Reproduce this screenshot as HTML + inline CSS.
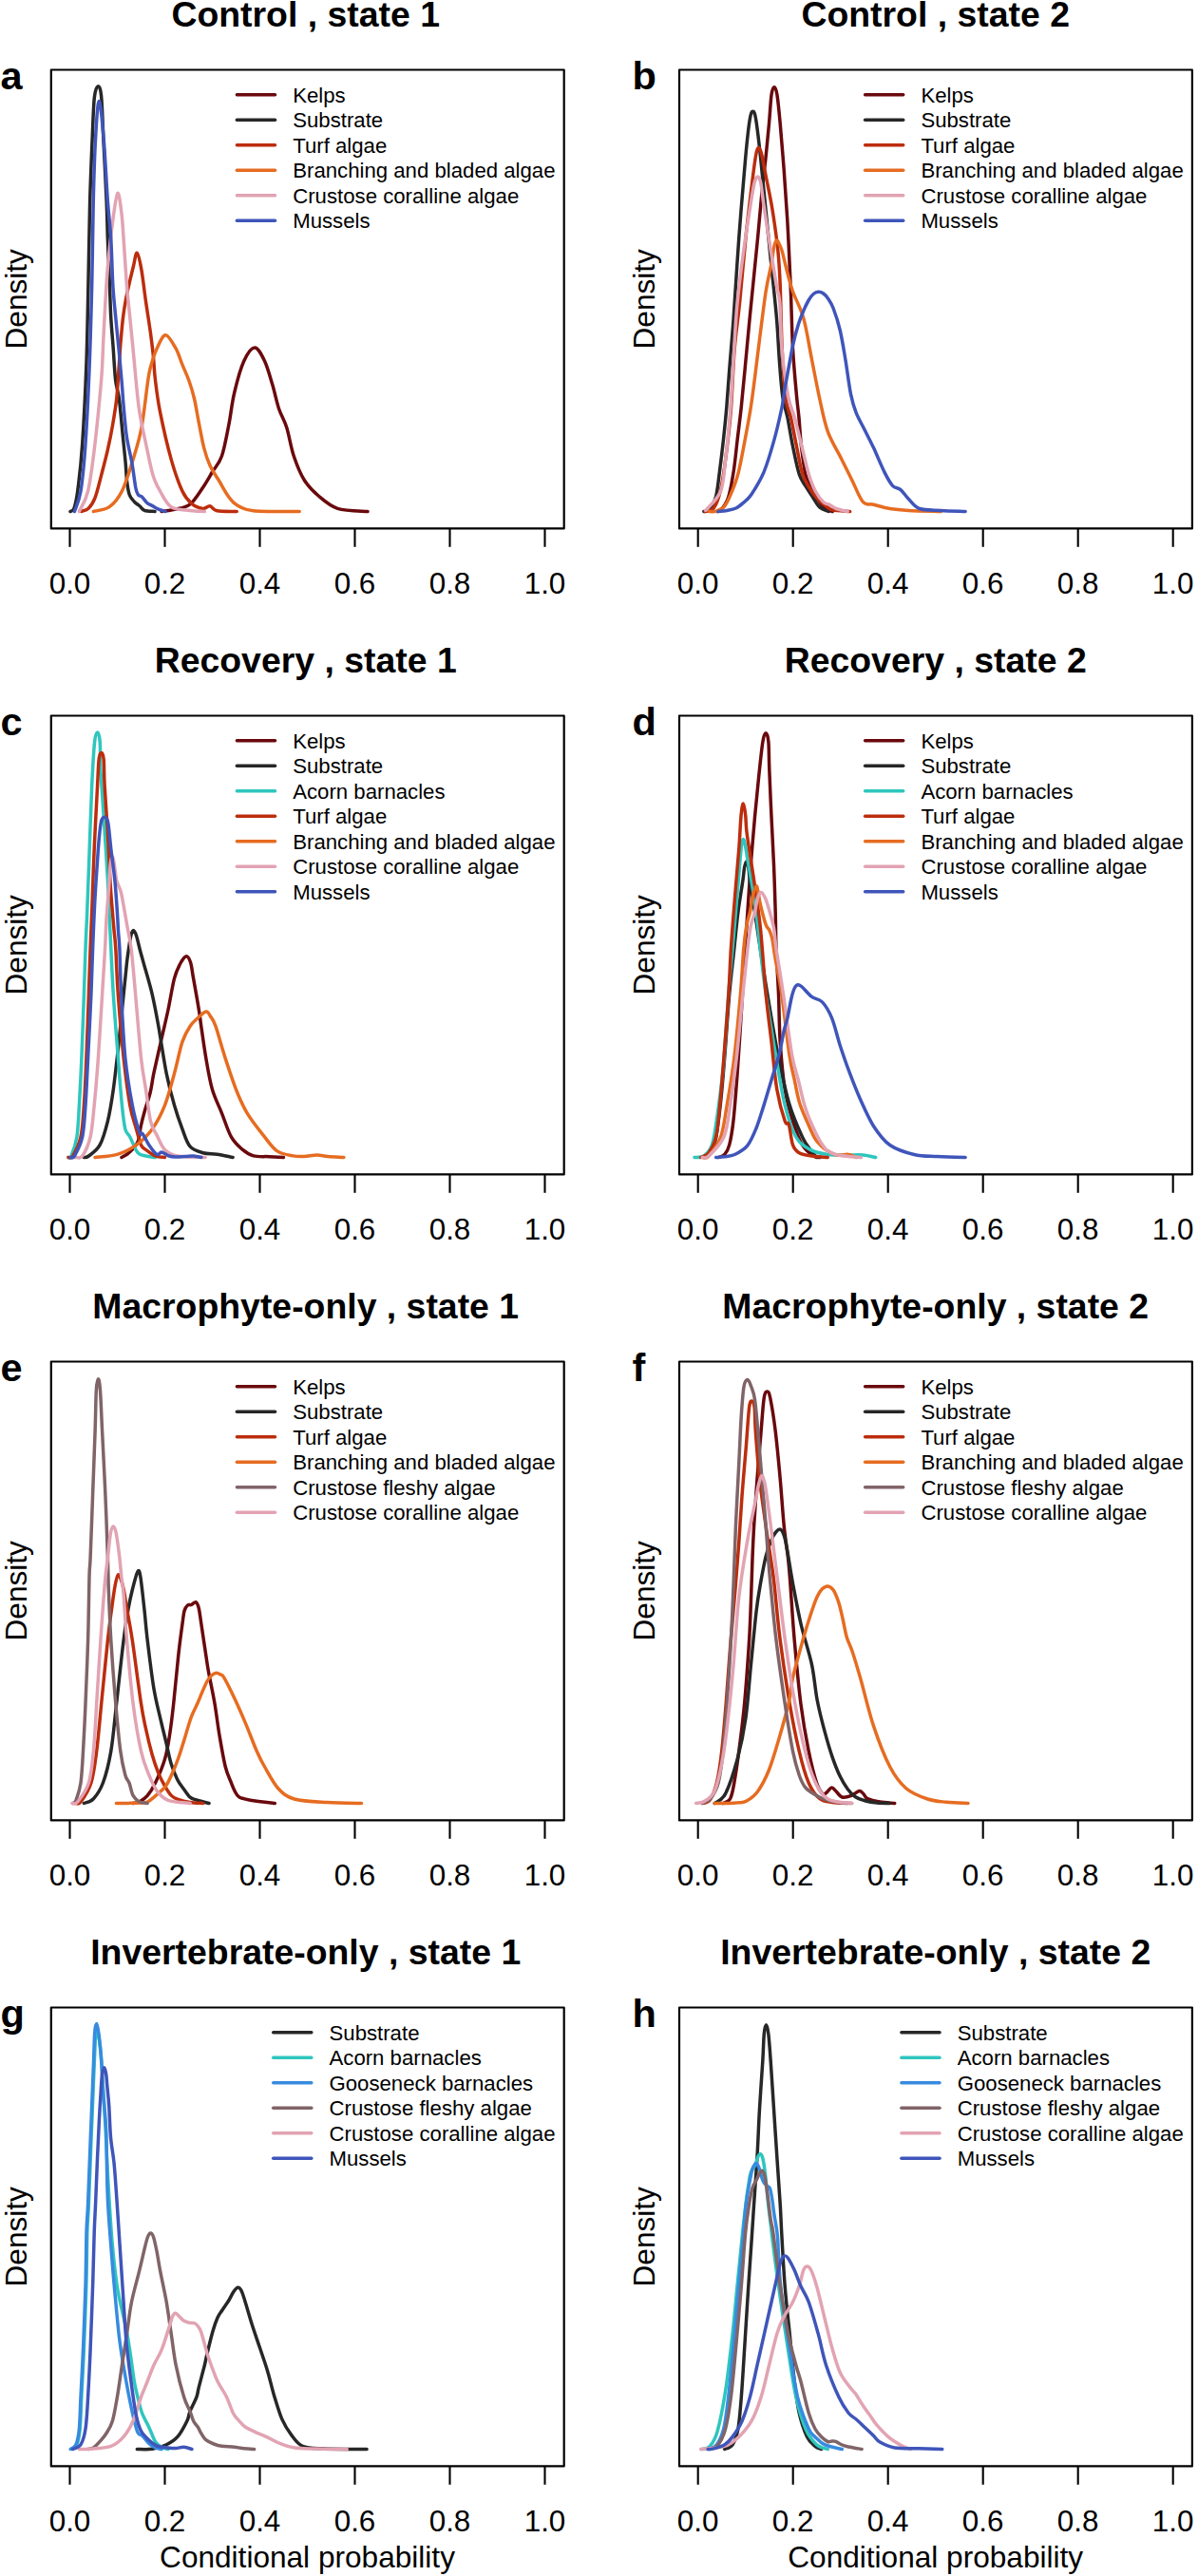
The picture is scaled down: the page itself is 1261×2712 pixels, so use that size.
<!DOCTYPE html><html><head><meta charset="utf-8"><style>html,body{margin:0;padding:0;background:#fff;overflow:hidden;}svg{display:block}text{font-family:"Liberation Sans", sans-serif}</style></head><body>
<svg width="1261" height="2712" viewBox="0 0 1261 2712">
<rect width="1261" height="2712" fill="#fff"/>
<g transform="translate(0.0,0.0)">
<path d="M170.0,538.5 C171.7,538.2 176.9,537.6 180.2,537.0 C183.5,536.4 186.5,536.1 190.0,535.0 C193.5,533.9 197.1,533.9 201.0,530.3 C204.9,526.7 209.7,519.1 213.4,513.6 C217.1,508.1 220.1,502.6 223.4,497.0 C226.7,491.4 230.5,488.7 233.4,480.3 C236.3,471.9 238.7,458.0 240.9,446.9 C243.1,435.8 244.0,424.6 246.7,413.5 C249.3,402.4 253.2,387.9 256.8,380.0 C260.4,372.1 264.5,365.9 268.1,365.9 C271.7,365.9 275.4,373.5 278.5,380.0 C281.6,386.5 284.3,396.7 286.8,405.1 C289.3,413.5 291.0,422.7 293.5,430.2 C296.0,437.7 299.2,441.8 301.8,450.2 C304.4,458.6 306.2,471.1 309.3,480.3 C312.4,489.5 315.9,498.4 320.2,505.3 C324.5,512.2 329.3,517.0 335.2,522.0 C341.1,527.0 346.7,532.5 355.3,535.3 C363.9,538.0 381.7,538.0 387.0,538.5" fill="none" stroke="#6A090D" stroke-width="3.5" stroke-linejoin="round" stroke-linecap="round"/>
<path d="M74.0,538.5 C74.7,537.9 76.7,538.6 78.0,535.0 C79.3,531.4 80.2,528.3 81.7,517.0 C83.2,505.7 85.2,489.2 86.7,467.0 C88.2,444.8 89.9,411.3 90.9,383.5 C91.9,355.7 92.3,328.3 92.9,300.0 C93.5,271.7 93.9,239.1 94.6,213.6 C95.3,188.1 96.3,165.2 97.1,146.8 C97.9,128.4 98.3,112.3 99.3,103.0 C100.3,93.7 101.9,91.2 103.1,90.9 C104.3,90.6 105.6,91.7 106.6,101.0 C107.6,110.3 108.0,128.0 108.9,146.8 C109.8,165.6 111.5,196.4 112.2,213.6 C112.9,230.8 112.8,235.6 113.3,250.0 C113.8,264.4 114.8,286.1 115.4,300.0 C116.0,313.9 116.1,322.4 116.7,333.5 C117.3,344.6 118.4,355.8 119.2,366.9 C120.0,378.0 120.6,391.1 121.6,400.0 C122.6,408.9 124.1,410.0 125.4,420.0 C126.7,430.0 128.3,449.0 129.4,460.1 C130.5,471.2 131.4,479.0 132.1,486.8 C132.8,494.6 132.9,501.1 133.6,506.8 C134.3,512.5 135.0,517.4 136.3,521.0 C137.6,524.6 139.7,526.3 141.4,528.2 C143.2,530.1 145.0,531.0 146.8,532.5 C148.6,534.0 149.4,536.3 152.1,537.3 C154.8,538.3 161.2,538.3 163.0,538.5" fill="none" stroke="#272727" stroke-width="3.5" stroke-linejoin="round" stroke-linecap="round"/>
<path d="M85.3,538.5 C86.7,537.9 91.0,537.3 93.4,534.9 C95.9,532.5 97.8,530.0 100.0,524.2 C102.2,518.4 104.5,508.6 106.7,500.1 C108.9,491.6 111.4,482.3 113.4,473.4 C115.4,464.5 117.2,455.6 118.7,446.7 C120.2,437.8 121.7,429.1 122.7,420.0 C123.7,410.9 124.1,401.4 124.8,392.0 C125.5,382.6 126.0,373.1 126.7,363.8 C127.5,354.5 128.4,344.1 129.3,336.0 C130.2,327.9 131.2,322.0 132.4,315.5 C133.6,309.0 135.1,302.9 136.4,297.0 C137.8,291.1 139.2,285.1 140.5,280.0 C141.8,274.9 142.8,265.7 144.2,266.3 C145.6,266.9 147.3,275.0 148.8,283.4 C150.3,291.8 151.8,305.7 153.4,316.8 C155.0,327.9 157.1,340.5 158.4,350.2 C159.7,359.9 160.6,367.0 161.4,375.2 C162.2,383.4 162.2,389.7 163.4,399.4 C164.6,409.1 165.7,419.6 168.5,433.6 C171.3,447.6 176.3,469.7 180.2,483.6 C184.1,497.5 188.3,509.2 191.9,517.0 C195.5,524.8 198.3,527.3 201.9,530.4 C205.5,533.5 210.4,535.0 213.6,535.4 C216.8,535.8 218.4,532.4 220.9,532.8 C223.4,533.2 223.7,536.8 228.4,537.8 C233.1,538.8 245.7,538.4 249.2,538.5" fill="none" stroke="#BC2D0D" stroke-width="3.5" stroke-linejoin="round" stroke-linecap="round"/>
<path d="M98.4,538.5 C101.2,537.7 110.1,537.3 115.1,533.7 C120.1,530.1 124.2,525.4 128.4,517.0 C132.6,508.6 136.7,494.8 140.1,483.6 C143.5,472.4 146.4,464.0 149.0,450.0 C151.6,436.0 154.2,410.5 155.9,399.4 C157.6,388.3 157.8,389.0 159.3,383.6 C160.8,378.2 162.6,372.0 165.1,366.9 C167.6,361.8 171.0,352.7 174.3,352.7 C177.6,352.7 182.2,361.8 185.1,366.9 C188.0,372.0 189.5,377.9 191.8,383.6 C194.1,389.3 196.8,394.9 199.0,401.0 C201.2,407.1 202.9,413.0 204.7,420.5 C206.4,428.0 207.8,437.5 209.5,446.0 C211.2,454.5 212.8,464.3 214.7,471.6 C216.6,478.9 218.4,484.3 221.0,490.0 C223.6,495.7 227.1,500.4 230.3,505.7 C233.5,511.0 236.9,517.7 240.0,522.0 C243.1,526.3 244.5,528.9 249.0,531.5 C253.5,534.1 255.8,536.6 266.8,537.8 C277.8,539.0 307.1,538.4 315.2,538.5" fill="none" stroke="#E66C21" stroke-width="3.5" stroke-linejoin="round" stroke-linecap="round"/>
<path d="M83.4,538.5 C84.9,534.9 89.8,528.9 92.6,517.0 C95.4,505.1 97.7,486.6 100.0,467.0 C102.3,447.4 105.2,417.2 106.7,399.4 C108.2,381.6 108.0,373.4 108.7,360.0 C109.4,346.6 110.1,332.0 110.9,318.7 C111.7,305.4 112.2,293.9 113.5,280.0 C114.8,266.1 116.7,247.8 118.4,235.0 C120.1,222.2 122.2,205.2 123.8,203.5 C125.4,201.8 127.0,217.2 128.0,225.0 C129.0,232.8 129.1,237.5 130.0,250.0 C130.9,262.5 132.3,286.1 133.4,300.0 C134.5,313.9 135.6,322.4 136.7,333.5 C137.8,344.6 138.9,355.9 140.0,366.9 C141.1,377.9 141.9,388.3 143.0,399.4 C144.1,410.5 145.1,422.3 146.8,433.6 C148.6,444.9 151.1,455.9 153.5,467.0 C155.9,478.1 158.5,492.0 161.0,500.3 C163.5,508.6 165.3,511.4 168.5,517.0 C171.7,522.6 174.9,530.3 180.2,533.7 C185.4,537.1 194.2,536.7 200.0,537.5 C205.8,538.3 212.8,538.3 215.3,538.5" fill="none" stroke="#E2A3B3" stroke-width="3.5" stroke-linejoin="round" stroke-linecap="round"/>
<path d="M78.4,538.5 C79.5,534.9 83.1,528.9 85.0,517.0 C86.9,505.1 88.5,489.2 90.0,467.0 C91.5,444.8 93.1,411.3 94.2,383.5 C95.3,355.7 96.0,328.3 96.7,300.0 C97.4,271.7 97.6,239.1 98.2,213.6 C98.8,188.1 99.5,164.7 100.5,146.8 C101.5,129.0 102.8,106.5 104.3,106.5 C105.8,106.5 107.7,129.0 109.2,146.8 C110.7,164.7 112.2,196.4 113.5,213.6 C114.8,230.8 115.8,235.6 116.7,250.0 C117.6,264.4 118.0,286.1 118.8,300.0 C119.6,313.9 120.7,322.4 121.7,333.5 C122.7,344.6 123.9,355.0 125.0,366.9 C126.1,378.8 127.6,395.3 128.4,405.0 C129.2,414.7 129.1,415.8 129.9,425.0 C130.7,434.2 131.9,449.8 133.4,460.1 C134.9,470.4 137.2,477.9 138.8,486.8 C140.4,495.7 141.7,507.8 142.8,513.5 C143.9,519.2 144.5,519.4 145.6,521.0 C146.7,522.6 147.9,521.6 149.4,523.0 C150.9,524.4 153.0,527.9 154.8,529.5 C156.6,531.1 158.1,531.3 160.1,532.4 C162.1,533.5 164.5,535.2 166.8,536.2 C169.1,537.2 172.8,538.1 174.0,538.5" fill="none" stroke="#3F55BA" stroke-width="3.5" stroke-linejoin="round" stroke-linecap="round"/>
<rect x="53.8" y="73.5" width="539.9" height="482.9" fill="none" stroke="#000" stroke-width="2.2" stroke-linejoin="round"/>
<line x1="73.5" y1="556.4" x2="73.5" y2="575.8" stroke="#000" stroke-width="2.1"/>
<text x="73.5" y="624.5" font-size="31.4" text-anchor="middle">0.0</text>
<line x1="173.5" y1="556.4" x2="173.5" y2="575.8" stroke="#000" stroke-width="2.1"/>
<text x="173.5" y="624.5" font-size="31.4" text-anchor="middle">0.2</text>
<line x1="273.5" y1="556.4" x2="273.5" y2="575.8" stroke="#000" stroke-width="2.1"/>
<text x="273.5" y="624.5" font-size="31.4" text-anchor="middle">0.4</text>
<line x1="373.5" y1="556.4" x2="373.5" y2="575.8" stroke="#000" stroke-width="2.1"/>
<text x="373.5" y="624.5" font-size="31.4" text-anchor="middle">0.6</text>
<line x1="473.5" y1="556.4" x2="473.5" y2="575.8" stroke="#000" stroke-width="2.1"/>
<text x="473.5" y="624.5" font-size="31.4" text-anchor="middle">0.8</text>
<line x1="573.5" y1="556.4" x2="573.5" y2="575.8" stroke="#000" stroke-width="2.1"/>
<text x="573.5" y="624.5" font-size="31.4" text-anchor="middle">1.0</text>
<text x="321.7" y="28" font-size="37.4" font-weight="bold" text-anchor="middle">Control , state 1</text>
<text x="0.6" y="93.6" font-size="41.5" font-weight="bold">a</text>
<text transform="translate(27.5,314.8) rotate(-90)" font-size="31.6" text-anchor="middle">Density</text>
<line x1="249.4" y1="99.8" x2="289.5" y2="99.8" stroke="#6A090D" stroke-width="3.5" stroke-linecap="round"/>
<text x="308.2" y="107.7" font-size="22.2">Kelps</text>
<line x1="249.4" y1="126.3" x2="289.5" y2="126.3" stroke="#272727" stroke-width="3.5" stroke-linecap="round"/>
<text x="308.2" y="134.2" font-size="22.2">Substrate</text>
<line x1="249.4" y1="152.8" x2="289.5" y2="152.8" stroke="#BC2D0D" stroke-width="3.5" stroke-linecap="round"/>
<text x="308.2" y="160.7" font-size="22.2">Turf algae</text>
<line x1="249.4" y1="179.3" x2="289.5" y2="179.3" stroke="#E66C21" stroke-width="3.5" stroke-linecap="round"/>
<text x="308.2" y="187.2" font-size="22.2">Branching and bladed algae</text>
<line x1="249.4" y1="205.8" x2="289.5" y2="205.8" stroke="#E2A3B3" stroke-width="3.5" stroke-linecap="round"/>
<text x="308.2" y="213.7" font-size="22.2">Crustose coralline algae</text>
<line x1="249.4" y1="232.3" x2="289.5" y2="232.3" stroke="#3F55BA" stroke-width="3.5" stroke-linecap="round"/>
<text x="308.2" y="240.2" font-size="22.2">Mussels</text>
</g>
<g transform="translate(661.2,0.0)">
<path d="M94.0,538.5 C94.8,538.0 96.9,538.0 98.8,535.5 C100.7,533.0 103.5,530.0 105.5,523.5 C107.5,517.0 109.3,506.8 110.9,496.8 C112.5,486.8 113.6,474.5 114.9,463.4 C116.2,452.3 117.6,442.2 118.9,430.0 C120.2,417.8 121.3,405.8 122.8,390.0 C124.3,374.2 125.6,358.7 127.9,335.4 C130.2,312.1 134.2,272.9 136.4,250.3 C138.6,227.7 139.6,214.2 141.0,200.0 C142.4,185.8 143.7,176.8 144.9,165.1 C146.1,153.4 147.3,140.9 148.3,130.1 C149.3,119.2 149.9,106.4 150.8,100.0 C151.7,93.6 152.8,91.7 153.8,91.7 C154.8,91.7 155.8,93.6 156.8,100.0 C157.8,106.4 158.8,116.7 160.0,130.1 C161.2,143.5 162.8,163.5 164.1,180.2 C165.3,196.9 166.5,213.6 167.5,230.3 C168.5,247.0 169.4,267.0 170.0,280.3 C170.6,293.6 170.8,295.6 171.3,310.0 C171.9,324.4 172.3,349.0 173.3,366.8 C174.3,384.6 176.2,404.7 177.3,416.9 C178.4,429.1 179.0,431.1 179.8,440.0 C180.6,448.9 181.1,460.0 182.3,470.0 C183.5,480.0 185.0,492.7 186.8,500.0 C188.6,507.3 190.8,509.6 193.0,514.0 C195.2,518.4 197.7,522.6 200.0,526.2 C202.3,529.8 204.5,533.5 207.0,535.5 C209.5,537.5 213.7,538.0 215.0,538.5" fill="none" stroke="#6A090D" stroke-width="3.5" stroke-linejoin="round" stroke-linecap="round"/>
<path d="M79.7,538.5 C80.7,538.2 83.4,539.3 85.5,536.8 C87.6,534.3 90.4,530.2 92.2,523.5 C94.0,516.8 94.9,506.8 96.2,496.8 C97.5,486.8 99.0,474.5 100.2,463.4 C101.4,452.3 102.5,442.2 103.5,430.0 C104.5,417.8 105.3,405.8 106.5,390.0 C107.7,374.2 109.2,358.7 110.9,335.4 C112.6,312.1 114.5,278.7 116.6,250.3 C118.7,221.9 121.7,185.8 123.6,165.1 C125.5,144.4 126.7,134.0 128.0,126.0 C129.3,118.0 130.2,117.2 131.3,117.2 C132.4,117.2 133.2,118.0 134.5,126.0 C135.8,134.0 137.6,149.1 139.3,165.1 C141.0,181.1 143.0,203.0 144.9,221.9 C146.8,240.8 148.7,259.7 150.6,278.6 C152.5,297.5 154.9,318.5 156.3,335.4 C157.7,352.3 158.2,366.4 159.2,380.0 C160.2,393.6 161.1,406.9 162.5,416.9 C163.9,426.9 166.0,431.1 167.8,440.0 C169.6,448.9 171.2,460.0 173.3,470.0 C175.4,480.0 177.8,492.7 180.3,500.0 C182.8,507.3 185.9,509.9 188.3,514.0 C190.8,518.1 192.8,521.1 195.0,524.5 C197.2,527.9 199.0,531.9 201.7,534.2 C204.4,536.5 209.4,537.8 211.0,538.5" fill="none" stroke="#272727" stroke-width="3.5" stroke-linejoin="round" stroke-linecap="round"/>
<path d="M81.0,538.5 C82.5,537.9 87.3,538.6 90.0,535.0 C92.7,531.4 94.9,525.6 97.0,517.0 C99.1,508.4 100.7,497.5 102.5,483.6 C104.3,469.7 106.4,453.1 108.0,433.6 C109.6,414.1 110.4,386.0 112.0,366.8 C113.6,347.6 115.4,338.7 117.4,318.7 C119.4,298.7 122.0,267.3 124.1,247.0 C126.2,226.7 128.2,210.9 129.9,196.9 C131.6,182.9 133.2,169.9 134.5,163.0 C135.8,156.1 136.6,155.5 137.6,155.5 C138.6,155.5 139.4,158.1 140.6,163.0 C141.8,167.9 143.0,175.2 144.9,185.0 C146.8,194.8 149.9,208.7 152.0,221.9 C154.1,235.1 156.4,251.4 157.7,264.4 C159.0,277.4 159.3,282.9 160.0,300.0 C160.7,317.1 161.0,346.8 162.0,366.8 C163.0,386.8 164.4,407.8 166.0,420.0 C167.6,432.2 169.4,431.7 171.3,440.0 C173.2,448.3 175.2,460.0 177.3,470.0 C179.4,480.0 181.1,492.0 183.8,500.0 C186.5,508.0 190.7,513.4 193.7,518.0 C196.7,522.6 199.3,525.0 201.7,527.5 C204.1,530.0 206.1,531.2 208.3,532.8 C210.5,534.3 210.8,535.8 215.0,536.8 C219.2,537.8 230.3,538.2 233.4,538.5" fill="none" stroke="#BC2D0D" stroke-width="3.5" stroke-linejoin="round" stroke-linecap="round"/>
<path d="M85.0,538.5 C86.2,538.5 89.5,539.2 92.2,538.2 C95.0,537.2 98.6,536.4 101.5,532.8 C104.4,529.2 107.0,522.8 109.5,516.8 C112.0,510.8 114.0,505.7 116.2,496.8 C118.4,487.9 120.8,474.5 122.9,463.4 C125.0,452.3 127.2,440.6 128.9,430.0 C130.6,419.4 131.6,411.0 133.0,400.0 C134.4,389.0 135.5,379.3 137.5,363.8 C139.5,348.3 142.7,321.2 144.9,307.0 C147.1,292.8 149.2,286.4 150.6,278.6 C152.0,270.8 152.6,264.2 153.5,260.0 C154.4,255.8 155.4,253.6 156.3,253.1 C157.2,252.6 158.1,255.1 159.0,257.0 C159.9,258.9 160.6,259.4 162.0,264.4 C163.4,269.4 165.7,280.0 167.6,287.1 C169.5,294.2 170.5,298.9 173.3,307.0 C176.2,315.1 181.4,323.6 184.7,335.4 C188.0,347.2 190.4,363.8 193.2,378.0 C196.0,392.2 198.9,407.7 201.7,420.5 C204.5,433.3 206.4,444.2 210.2,454.6 C214.0,465.0 220.2,474.5 224.4,483.0 C228.7,491.5 231.9,498.1 235.7,505.7 C239.5,513.3 243.3,524.1 247.1,528.4 C250.9,532.6 253.7,530.0 258.4,531.2 C263.1,532.4 269.4,534.5 275.5,535.5 C281.6,536.5 286.3,536.9 295.3,537.4 C304.3,537.9 323.7,538.3 329.4,538.5" fill="none" stroke="#E66C21" stroke-width="3.5" stroke-linejoin="round" stroke-linecap="round"/>
<path d="M81.5,537.5 C84.2,534.1 93.9,526.0 97.4,517.0 C100.9,508.0 100.7,497.5 102.4,483.6 C104.1,469.7 105.9,453.1 107.4,433.6 C108.9,414.1 110.3,386.0 111.6,366.8 C112.8,347.6 113.2,335.9 114.9,318.7 C116.6,301.5 119.2,281.1 121.6,263.6 C124.0,246.1 127.2,225.5 129.1,213.6 C131.0,201.7 131.8,196.6 133.0,192.0 C134.2,187.4 135.2,186.0 136.3,186.0 C137.4,186.0 138.5,187.4 139.5,192.0 C140.5,196.6 140.7,201.7 142.4,213.6 C144.2,225.5 147.7,249.2 150.0,263.6 C152.3,278.0 154.4,290.8 156.0,300.0 C157.6,309.2 158.6,307.6 159.6,318.7 C160.6,329.8 160.4,350.4 161.8,366.8 C163.2,383.2 166.1,404.7 168.3,416.9 C170.6,429.1 172.9,431.1 175.3,440.0 C177.7,448.9 180.3,460.0 182.8,470.0 C185.3,480.0 187.9,492.2 190.3,500.0 C192.7,507.8 194.4,512.2 197.0,517.0 C199.6,521.8 203.1,526.4 205.7,528.8 C208.3,531.2 210.2,530.4 212.4,531.5 C214.6,532.6 215.9,534.3 219.0,535.5 C222.1,536.7 229.0,538.0 231.0,538.5" fill="none" stroke="#E2A3B3" stroke-width="3.5" stroke-linejoin="round" stroke-linecap="round"/>
<path d="M94.8,538.5 C96.3,538.3 100.9,538.1 104.0,537.5 C107.1,536.9 110.7,536.3 113.5,535.0 C116.3,533.7 118.3,531.9 121.0,529.5 C123.7,527.1 125.9,526.2 129.6,520.8 C133.2,515.3 138.9,506.4 142.9,496.8 C146.9,487.2 150.5,474.5 153.6,463.4 C156.7,452.3 159.7,438.9 161.6,430.0 C163.5,421.1 162.9,421.0 164.8,410.0 C166.8,399.0 170.9,375.1 173.3,363.8 C175.7,352.5 177.1,348.1 179.0,342.0 C180.9,335.9 182.9,331.2 184.7,326.9 C186.5,322.6 188.3,318.9 190.0,316.0 C191.7,313.1 193.3,310.9 195.0,309.5 C196.7,308.1 198.2,307.4 200.0,307.3 C201.8,307.2 203.8,307.8 205.5,309.0 C207.2,310.2 208.8,311.9 210.5,314.5 C212.2,317.1 213.8,319.0 215.9,324.5 C218.0,330.0 220.9,338.6 223.0,347.5 C225.1,356.4 226.7,366.8 228.6,378.0 C230.5,389.2 232.4,405.4 234.3,414.9 C236.2,424.3 237.6,428.6 240.0,434.7 C242.4,440.8 245.4,445.5 248.5,451.7 C251.6,457.9 254.8,464.0 258.4,471.6 C261.9,479.2 266.5,490.5 269.8,497.1 C273.1,503.7 275.5,508.2 278.3,511.3 C281.1,514.4 284.0,513.2 286.8,515.6 C289.6,518.0 292.0,522.2 295.3,525.5 C298.6,528.8 301.0,533.5 306.7,535.5 C312.4,537.5 321.4,536.9 329.4,537.4 C337.4,537.9 350.6,538.3 354.9,538.5" fill="none" stroke="#3F55BA" stroke-width="3.5" stroke-linejoin="round" stroke-linecap="round"/>
<rect x="53.8" y="73.5" width="539.9" height="482.9" fill="none" stroke="#000" stroke-width="2.2" stroke-linejoin="round"/>
<line x1="73.5" y1="556.4" x2="73.5" y2="575.8" stroke="#000" stroke-width="2.1"/>
<text x="73.5" y="624.5" font-size="31.4" text-anchor="middle">0.0</text>
<line x1="173.5" y1="556.4" x2="173.5" y2="575.8" stroke="#000" stroke-width="2.1"/>
<text x="173.5" y="624.5" font-size="31.4" text-anchor="middle">0.2</text>
<line x1="273.5" y1="556.4" x2="273.5" y2="575.8" stroke="#000" stroke-width="2.1"/>
<text x="273.5" y="624.5" font-size="31.4" text-anchor="middle">0.4</text>
<line x1="373.5" y1="556.4" x2="373.5" y2="575.8" stroke="#000" stroke-width="2.1"/>
<text x="373.5" y="624.5" font-size="31.4" text-anchor="middle">0.6</text>
<line x1="473.5" y1="556.4" x2="473.5" y2="575.8" stroke="#000" stroke-width="2.1"/>
<text x="473.5" y="624.5" font-size="31.4" text-anchor="middle">0.8</text>
<line x1="573.5" y1="556.4" x2="573.5" y2="575.8" stroke="#000" stroke-width="2.1"/>
<text x="573.5" y="624.5" font-size="31.4" text-anchor="middle">1.0</text>
<text x="323.5" y="28" font-size="37.4" font-weight="bold" text-anchor="middle">Control , state 2</text>
<text x="4.3" y="93.6" font-size="41.5" font-weight="bold">b</text>
<text transform="translate(27.5,314.8) rotate(-90)" font-size="31.6" text-anchor="middle">Density</text>
<line x1="249.4" y1="99.8" x2="289.5" y2="99.8" stroke="#6A090D" stroke-width="3.5" stroke-linecap="round"/>
<text x="308.2" y="107.7" font-size="22.2">Kelps</text>
<line x1="249.4" y1="126.3" x2="289.5" y2="126.3" stroke="#272727" stroke-width="3.5" stroke-linecap="round"/>
<text x="308.2" y="134.2" font-size="22.2">Substrate</text>
<line x1="249.4" y1="152.8" x2="289.5" y2="152.8" stroke="#BC2D0D" stroke-width="3.5" stroke-linecap="round"/>
<text x="308.2" y="160.7" font-size="22.2">Turf algae</text>
<line x1="249.4" y1="179.3" x2="289.5" y2="179.3" stroke="#E66C21" stroke-width="3.5" stroke-linecap="round"/>
<text x="308.2" y="187.2" font-size="22.2">Branching and bladed algae</text>
<line x1="249.4" y1="205.8" x2="289.5" y2="205.8" stroke="#E2A3B3" stroke-width="3.5" stroke-linecap="round"/>
<text x="308.2" y="213.7" font-size="22.2">Crustose coralline algae</text>
<line x1="249.4" y1="232.3" x2="289.5" y2="232.3" stroke="#3F55BA" stroke-width="3.5" stroke-linecap="round"/>
<text x="308.2" y="240.2" font-size="22.2">Mussels</text>
</g>
<g transform="translate(0.0,680.0)">
<path d="M128.0,538.5 C129.0,537.9 132.0,536.5 134.0,535.0 C136.0,533.5 138.1,531.8 140.0,529.5 C141.9,527.2 144.1,524.9 145.5,521.0 C146.9,517.1 147.1,511.2 148.2,506.0 C149.3,500.8 150.5,496.0 152.2,490.0 C153.9,484.0 156.6,476.6 158.2,470.0 C159.8,463.4 160.0,459.1 161.8,450.2 C163.7,441.3 166.8,428.0 169.3,416.9 C171.8,405.8 174.5,394.6 176.9,383.5 C179.3,372.4 181.3,358.4 183.5,350.1 C185.7,341.9 187.9,337.9 190.0,334.0 C192.1,330.1 194.3,326.9 196.1,326.7 C197.8,326.5 199.2,329.1 200.5,333.0 C201.8,336.9 202.1,341.7 203.6,350.1 C205.1,358.5 208.1,375.2 209.4,383.5 C210.8,391.8 210.5,391.7 211.7,400.0 C212.9,408.3 214.8,422.3 216.7,433.4 C218.6,444.5 220.6,457.1 223.4,466.8 C226.2,476.5 230.1,483.5 233.4,491.8 C236.7,500.1 239.8,510.5 243.4,516.9 C247.0,523.3 251.2,526.9 255.1,530.2 C259.0,533.5 262.1,535.6 266.8,536.9 C271.5,538.1 278.2,537.4 283.5,537.7 C288.8,538.0 296.0,538.4 298.5,538.5" fill="none" stroke="#6A090D" stroke-width="3.5" stroke-linejoin="round" stroke-linecap="round"/>
<path d="M88.4,538.5 C89.2,538.2 90.6,539.2 93.4,537.0 C96.2,534.8 101.8,531.5 105.1,525.4 C108.4,519.3 111.0,510.0 113.4,500.3 C115.8,490.6 117.3,480.9 119.3,467.0 C121.2,453.1 123.3,433.6 125.1,416.9 C126.9,400.2 128.7,380.7 130.1,366.8 C131.5,352.9 132.6,341.4 133.5,333.4 C134.4,325.4 134.8,323.4 135.5,318.7 C136.2,314.0 137.0,308.2 137.8,305.0 C138.6,301.8 139.6,299.5 140.5,299.5 C141.4,299.5 142.4,301.8 143.5,305.0 C144.6,308.2 145.8,314.0 147.0,318.7 C148.2,323.4 148.8,325.4 151.0,333.4 C153.2,341.4 157.6,355.7 160.2,366.8 C162.8,377.9 164.3,386.3 166.8,400.2 C169.3,414.1 172.4,436.3 175.2,450.2 C178.0,464.1 180.7,473.9 183.5,483.6 C186.3,493.4 189.2,501.5 191.9,508.7 C194.7,515.9 196.4,522.7 200.0,526.9 C203.6,531.1 208.9,532.3 213.6,533.7 C218.3,535.1 223.2,534.4 228.4,535.2 C233.7,536.0 242.3,538.0 245.1,538.5" fill="none" stroke="#272727" stroke-width="3.5" stroke-linejoin="round" stroke-linecap="round"/>
<path d="M72.0,538.5 C72.5,538.2 73.5,540.6 75.0,537.0 C76.5,533.4 79.5,525.9 80.9,517.0 C82.3,508.1 82.6,497.5 83.4,483.6 C84.2,469.7 85.1,453.1 85.9,433.6 C86.7,414.1 87.7,386.0 88.4,366.8 C89.1,347.6 89.5,333.1 90.0,318.7 C90.5,304.3 91.0,297.8 91.7,280.3 C92.4,262.8 93.4,235.8 94.2,213.6 C95.0,191.3 95.8,165.6 96.7,146.8 C97.6,128.0 98.6,110.3 99.6,101.0 C100.6,91.7 101.7,90.9 102.6,90.9 C103.5,90.9 104.7,94.5 105.2,101.0 C105.8,107.5 105.2,116.8 105.9,130.0 C106.6,143.2 108.0,160.7 109.2,180.2 C110.5,199.7 112.3,227.0 113.4,247.0 C114.5,267.0 115.3,288.1 115.9,300.0 C116.5,311.9 116.2,307.6 116.8,318.7 C117.4,329.8 118.0,347.6 119.3,366.8 C120.5,386.0 122.8,414.1 124.3,433.6 C125.8,453.1 127.2,471.1 128.4,483.6 C129.7,496.1 130.4,503.1 131.8,508.7 C133.2,514.3 134.6,512.8 136.8,517.0 C139.0,521.2 142.3,530.4 145.1,533.7 C147.9,537.0 150.4,536.2 153.5,537.0 C156.6,537.8 161.8,538.2 163.5,538.5" fill="none" stroke="#2EC6BE" stroke-width="3.5" stroke-linejoin="round" stroke-linecap="round"/>
<path d="M72.0,538.5 C72.8,538.2 74.5,540.6 76.7,537.0 C78.9,533.4 83.0,525.9 85.0,517.0 C87.0,508.1 87.4,497.5 88.4,483.6 C89.4,469.7 90.1,453.1 90.9,433.6 C91.7,414.1 92.7,386.0 93.4,366.8 C94.1,347.6 94.5,333.1 95.1,318.7 C95.6,304.3 96.0,297.8 96.7,280.3 C97.4,262.8 98.2,235.8 99.2,213.6 C100.2,191.3 101.8,162.6 102.6,146.8 C103.4,131.0 103.5,124.7 104.2,119.0 C104.9,113.3 105.9,112.6 106.7,112.6 C107.5,112.6 108.5,113.3 109.1,119.0 C109.7,124.7 109.4,133.8 110.1,146.8 C110.8,159.8 112.4,180.2 113.4,196.9 C114.4,213.6 115.1,233.1 115.9,247.0 C116.7,260.9 117.7,271.5 118.4,280.3 C119.1,289.1 119.5,293.6 120.1,300.0 C120.7,306.4 121.1,307.6 121.8,318.7 C122.5,329.8 122.9,347.6 124.3,366.8 C125.7,386.0 128.0,414.1 130.1,433.6 C132.2,453.1 134.6,471.1 136.8,483.6 C139.0,496.1 141.6,501.7 143.5,508.7 C145.4,515.7 146.8,521.8 148.5,525.4 C150.2,529.0 151.0,528.5 153.5,530.4 C156.0,532.3 160.2,535.6 163.5,537.0 C166.8,538.4 171.8,538.2 173.5,538.5" fill="none" stroke="#BC2D0D" stroke-width="3.5" stroke-linejoin="round" stroke-linecap="round"/>
<path d="M100.1,538.5 C104.0,538.0 116.2,537.6 123.4,535.4 C130.6,533.2 137.4,529.9 143.5,525.4 C149.6,520.9 155.2,515.7 160.2,508.7 C165.2,501.7 169.6,493.4 173.5,483.6 C177.4,473.9 180.4,461.3 183.5,450.2 C186.6,439.1 189.1,425.2 191.9,416.9 C194.7,408.6 197.5,404.3 200.2,400.2 C202.9,396.1 205.2,394.5 208.0,392.0 C210.8,389.5 214.7,385.4 216.9,385.1 C219.2,384.8 219.8,387.5 221.5,390.0 C223.2,392.5 224.3,392.9 226.9,400.2 C229.5,407.5 233.4,422.5 237.0,433.6 C240.6,444.7 244.6,457.1 248.4,466.8 C252.2,476.5 255.1,483.5 260.1,491.8 C265.1,500.1 273.2,510.2 278.5,516.9 C283.8,523.6 286.8,528.6 291.8,531.9 C296.8,535.2 303.8,536.0 308.5,536.9 C313.2,537.8 315.8,537.6 320.0,537.5 C324.2,537.4 329.4,536.0 333.6,536.0 C337.8,536.0 340.3,537.1 345.0,537.5 C349.7,537.9 359.1,538.3 361.9,538.5" fill="none" stroke="#E66C21" stroke-width="3.5" stroke-linejoin="round" stroke-linecap="round"/>
<path d="M80.0,538.5 C81.1,538.2 84.2,540.6 86.7,537.0 C89.2,533.4 93.0,525.9 95.1,517.0 C97.2,508.1 97.8,497.5 99.2,483.6 C100.6,469.7 102.0,453.1 103.4,433.6 C104.8,414.1 106.4,385.7 107.6,366.8 C108.8,347.9 109.8,333.2 110.5,320.0 C111.2,306.8 111.4,298.0 112.0,287.7 C112.6,277.4 113.6,267.7 114.3,258.4 C115.0,249.1 115.4,238.1 116.0,232.0 C116.6,225.9 117.3,222.7 118.0,222.0 C118.7,221.3 119.2,224.0 120.0,228.0 C120.8,232.0 121.6,241.7 122.5,246.0 C123.4,250.3 124.6,251.5 125.4,253.8 C126.2,256.1 126.8,257.3 127.5,260.0 C128.2,262.7 128.5,264.5 129.5,270.1 C130.5,275.7 132.2,285.2 133.6,293.5 C135.0,301.8 136.7,307.6 138.2,319.8 C139.7,332.0 140.9,347.8 142.6,366.8 C144.3,385.8 146.7,416.9 148.5,433.6 C150.3,450.3 151.8,455.9 153.5,467.0 C155.2,478.1 156.6,492.2 158.5,500.3 C160.4,508.4 162.7,510.4 165.2,515.4 C167.7,520.4 169.9,526.8 173.5,530.4 C177.1,534.0 179.8,535.6 186.9,537.0 C194.0,538.4 211.2,538.2 216.1,538.5" fill="none" stroke="#E2A3B3" stroke-width="3.5" stroke-linejoin="round" stroke-linecap="round"/>
<path d="M74.0,538.5 C74.7,538.2 76.3,540.6 78.4,537.0 C80.5,533.4 84.8,525.9 86.7,517.0 C88.6,508.1 89.0,497.5 90.0,483.6 C91.0,469.7 91.6,453.1 92.6,433.6 C93.6,414.1 95.1,386.0 95.9,366.8 C96.7,347.6 96.9,335.9 97.6,318.7 C98.3,301.5 99.1,281.1 100.1,263.6 C101.1,246.1 102.4,226.5 103.4,213.6 C104.4,200.7 105.2,191.6 106.3,186.0 C107.4,180.4 108.9,180.2 110.1,180.2 C111.3,180.2 112.6,180.4 113.7,186.0 C114.8,191.6 115.6,203.4 116.8,213.6 C118.0,223.8 119.8,235.9 120.9,247.0 C122.0,258.1 122.8,271.5 123.4,280.3 C124.0,289.1 124.1,293.6 124.5,300.0 C124.9,306.4 125.4,307.6 125.9,318.7 C126.4,329.8 126.6,347.6 127.6,366.8 C128.6,386.0 129.9,414.1 131.8,433.6 C133.8,453.1 136.8,470.5 139.3,483.6 C141.8,496.7 145.0,507.0 146.8,512.0 C148.6,517.0 148.5,511.5 150.2,513.7 C151.9,515.9 154.3,521.8 156.8,525.4 C159.3,529.0 163.0,534.1 165.2,535.4 C167.4,536.6 168.1,532.6 170.2,532.9 C172.3,533.2 175.5,536.2 178.0,537.0 C180.5,537.8 182.4,537.8 185.2,537.9 C188.0,538.0 191.9,537.6 195.0,537.5 C198.1,537.4 200.8,536.8 203.6,537.0 C206.4,537.2 210.5,538.2 211.9,538.5" fill="none" stroke="#3F55BA" stroke-width="3.5" stroke-linejoin="round" stroke-linecap="round"/>
<rect x="53.8" y="73.5" width="539.9" height="482.9" fill="none" stroke="#000" stroke-width="2.2" stroke-linejoin="round"/>
<line x1="73.5" y1="556.4" x2="73.5" y2="575.8" stroke="#000" stroke-width="2.1"/>
<text x="73.5" y="624.5" font-size="31.4" text-anchor="middle">0.0</text>
<line x1="173.5" y1="556.4" x2="173.5" y2="575.8" stroke="#000" stroke-width="2.1"/>
<text x="173.5" y="624.5" font-size="31.4" text-anchor="middle">0.2</text>
<line x1="273.5" y1="556.4" x2="273.5" y2="575.8" stroke="#000" stroke-width="2.1"/>
<text x="273.5" y="624.5" font-size="31.4" text-anchor="middle">0.4</text>
<line x1="373.5" y1="556.4" x2="373.5" y2="575.8" stroke="#000" stroke-width="2.1"/>
<text x="373.5" y="624.5" font-size="31.4" text-anchor="middle">0.6</text>
<line x1="473.5" y1="556.4" x2="473.5" y2="575.8" stroke="#000" stroke-width="2.1"/>
<text x="473.5" y="624.5" font-size="31.4" text-anchor="middle">0.8</text>
<line x1="573.5" y1="556.4" x2="573.5" y2="575.8" stroke="#000" stroke-width="2.1"/>
<text x="573.5" y="624.5" font-size="31.4" text-anchor="middle">1.0</text>
<text x="321.7" y="28" font-size="37.4" font-weight="bold" text-anchor="middle">Recovery , state 1</text>
<text x="0.6" y="93.6" font-size="41.5" font-weight="bold">c</text>
<text transform="translate(27.5,314.8) rotate(-90)" font-size="31.6" text-anchor="middle">Density</text>
<line x1="249.4" y1="99.8" x2="289.5" y2="99.8" stroke="#6A090D" stroke-width="3.5" stroke-linecap="round"/>
<text x="308.2" y="107.7" font-size="22.2">Kelps</text>
<line x1="249.4" y1="126.3" x2="289.5" y2="126.3" stroke="#272727" stroke-width="3.5" stroke-linecap="round"/>
<text x="308.2" y="134.2" font-size="22.2">Substrate</text>
<line x1="249.4" y1="152.8" x2="289.5" y2="152.8" stroke="#2EC6BE" stroke-width="3.5" stroke-linecap="round"/>
<text x="308.2" y="160.7" font-size="22.2">Acorn barnacles</text>
<line x1="249.4" y1="179.3" x2="289.5" y2="179.3" stroke="#BC2D0D" stroke-width="3.5" stroke-linecap="round"/>
<text x="308.2" y="187.2" font-size="22.2">Turf algae</text>
<line x1="249.4" y1="205.8" x2="289.5" y2="205.8" stroke="#E66C21" stroke-width="3.5" stroke-linecap="round"/>
<text x="308.2" y="213.7" font-size="22.2">Branching and bladed algae</text>
<line x1="249.4" y1="232.3" x2="289.5" y2="232.3" stroke="#E2A3B3" stroke-width="3.5" stroke-linecap="round"/>
<text x="308.2" y="240.2" font-size="22.2">Crustose coralline algae</text>
<line x1="249.4" y1="258.8" x2="289.5" y2="258.8" stroke="#3F55BA" stroke-width="3.5" stroke-linecap="round"/>
<text x="308.2" y="266.7" font-size="22.2">Mussels</text>
</g>
<g transform="translate(661.2,680.0)">
<path d="M95.0,538.5 C96.1,538.0 99.6,537.6 101.5,535.4 C103.4,533.2 105.0,531.2 106.5,525.4 C108.0,519.5 109.3,512.8 110.7,500.3 C112.1,487.8 113.4,470.2 114.9,450.2 C116.4,430.1 118.1,401.9 119.5,380.0 C120.9,358.1 122.2,335.3 123.2,318.7 C124.2,302.1 124.7,295.0 125.7,280.3 C126.7,265.6 127.8,247.0 129.1,230.3 C130.4,213.6 131.9,195.5 133.3,180.2 C134.7,164.9 136.0,151.6 137.4,138.4 C138.8,125.2 140.4,108.8 141.7,101.0 C142.9,93.2 143.9,91.7 144.9,91.7 C145.9,91.7 147.1,94.6 147.7,101.0 C148.3,107.4 148.1,116.9 148.6,130.1 C149.1,143.3 150.0,163.5 150.8,180.2 C151.6,196.9 152.6,213.6 153.3,230.3 C154.0,247.0 154.6,265.6 155.0,280.3 C155.4,295.0 155.2,304.3 155.8,318.7 C156.4,333.1 157.6,350.4 158.3,366.8 C159.0,383.2 158.9,400.2 160.0,416.9 C161.1,433.6 162.8,453.1 165.0,467.0 C167.2,480.9 170.2,490.6 173.3,500.3 C176.4,510.0 179.7,519.3 183.3,525.4 C186.9,531.5 191.9,534.8 195.0,537.0 C198.1,539.2 200.8,538.2 202.0,538.5" fill="none" stroke="#6A090D" stroke-width="3.5" stroke-linejoin="round" stroke-linecap="round"/>
<path d="M80.0,538.5 C81.0,537.9 84.0,538.1 86.0,535.0 C88.0,531.9 90.2,528.6 92.0,520.0 C93.8,511.4 95.4,498.0 97.0,483.6 C98.6,469.2 99.9,453.1 101.5,433.6 C103.1,414.1 104.8,386.0 106.5,366.8 C108.2,347.6 110.1,333.1 111.6,318.7 C113.1,304.3 114.2,292.2 115.7,280.3 C117.2,268.4 119.6,254.9 120.7,247.0 C121.8,239.1 121.8,236.3 122.4,233.0 C123.1,229.7 123.9,226.9 124.6,226.9 C125.3,226.9 126.0,229.7 126.6,233.0 C127.2,236.3 127.1,239.1 128.2,247.0 C129.3,254.9 131.8,270.6 133.3,280.3 C134.8,290.0 134.8,290.6 137.0,305.0 C139.2,319.4 143.0,345.4 146.6,366.8 C150.2,388.2 154.4,414.1 158.3,433.6 C162.2,453.1 165.8,469.7 170.0,483.6 C174.2,497.5 179.7,509.2 183.3,517.0 C186.9,524.8 189.2,526.8 191.7,530.4 C194.2,534.0 197.3,537.1 198.4,538.5" fill="none" stroke="#272727" stroke-width="3.5" stroke-linejoin="round" stroke-linecap="round"/>
<path d="M69.8,538.5 C71.5,538.2 76.7,539.2 79.8,537.0 C82.9,534.8 86.0,531.6 88.2,525.4 C90.4,519.2 91.5,509.8 93.0,500.0 C94.5,490.2 96.2,477.9 97.5,466.8 C98.8,455.7 99.7,450.3 101.0,433.6 C102.3,416.9 104.0,386.0 105.5,366.8 C107.0,347.6 108.6,333.1 109.9,318.7 C111.2,304.3 112.0,295.0 113.2,280.3 C114.5,265.6 116.4,242.0 117.4,230.3 C118.4,218.6 118.7,214.5 119.3,210.0 C119.9,205.5 120.5,203.5 121.2,203.5 C121.9,203.5 122.3,205.5 123.2,210.0 C124.1,214.5 125.1,221.4 126.6,230.3 C128.1,239.2 130.7,252.5 132.4,263.6 C134.1,274.7 135.5,287.8 136.6,297.0 C137.7,306.2 137.6,307.1 139.0,318.7 C140.4,330.3 142.2,347.6 145.0,366.8 C147.8,386.0 152.5,414.1 155.8,433.6 C159.1,453.1 161.5,469.7 165.0,483.6 C168.5,497.5 172.2,509.2 176.7,517.0 C181.1,524.8 186.1,527.3 191.7,530.4 C197.2,533.5 203.6,534.5 210.0,535.4 C216.4,536.3 223.8,535.9 230.0,536.0 C236.2,536.1 242.0,535.6 247.1,536.0 C252.2,536.4 258.3,538.1 260.5,538.5" fill="none" stroke="#2EC6BE" stroke-width="3.5" stroke-linejoin="round" stroke-linecap="round"/>
<path d="M76.5,538.5 C77.9,537.7 82.1,537.3 84.8,533.7 C87.5,530.1 90.5,525.4 92.4,517.0 C94.4,508.6 95.1,497.5 96.5,483.6 C97.9,469.7 99.2,453.1 100.7,433.6 C102.2,414.1 104.5,386.0 105.7,366.8 C107.0,347.6 107.1,335.9 108.2,318.7 C109.3,301.5 111.0,281.1 112.4,263.6 C113.8,246.1 115.5,227.9 116.6,213.6 C117.7,199.3 118.1,185.9 118.9,178.0 C119.7,170.1 120.4,166.0 121.2,166.0 C122.0,166.0 122.9,172.8 123.5,178.0 C124.1,183.2 123.8,188.2 124.9,196.9 C126.0,205.6 128.2,219.2 129.9,230.3 C131.6,241.4 133.3,252.0 134.9,263.6 C136.5,275.2 137.8,282.8 139.5,300.0 C141.2,317.2 143.1,347.3 145.0,366.8 C146.9,386.3 148.9,400.2 150.8,416.9 C152.7,433.6 154.2,453.1 156.6,467.0 C159.0,480.9 162.9,494.2 165.0,500.3 C167.1,506.4 167.7,499.5 169.1,503.7 C170.5,507.9 171.5,520.4 173.3,525.4 C175.1,530.4 176.7,531.8 180.0,533.7 C183.3,535.6 188.4,536.2 193.4,537.0 C198.4,537.8 207.2,538.2 210.0,538.5" fill="none" stroke="#BC2D0D" stroke-width="3.5" stroke-linejoin="round" stroke-linecap="round"/>
<path d="M78.0,538.5 C79.1,538.2 81.6,540.6 84.8,537.0 C88.0,533.4 94.2,525.9 97.4,517.0 C100.6,508.1 101.6,497.5 104.0,483.6 C106.4,469.7 109.2,453.1 111.6,433.6 C114.0,414.1 116.5,386.0 118.2,366.8 C119.9,347.6 120.5,330.7 121.6,318.7 C122.6,306.7 123.4,301.4 124.5,295.0 C125.6,288.6 127.0,285.8 128.2,280.3 C129.4,274.8 130.4,266.6 131.5,262.0 C132.6,257.4 134.0,253.1 134.9,252.8 C135.8,252.5 136.3,256.8 137.0,260.0 C137.7,263.2 137.8,266.4 139.1,272.0 C140.4,277.6 143.4,289.2 145.0,293.7 C146.6,298.2 147.4,296.6 148.5,299.0 C149.6,301.4 150.4,302.8 151.5,308.0 C152.6,313.2 153.3,320.2 155.0,330.0 C156.7,339.8 159.2,350.1 161.6,366.8 C164.0,383.5 167.4,415.0 169.6,430.0 C171.8,445.0 173.2,448.2 175.0,456.7 C176.8,465.2 178.1,473.4 180.3,480.8 C182.5,488.2 185.6,494.6 188.3,500.8 C191.0,507.0 193.9,513.9 196.3,518.1 C198.8,522.3 200.8,524.0 203.0,526.2 C205.2,528.4 206.8,529.8 209.7,531.5 C212.5,533.2 216.4,535.6 220.1,536.2 C223.8,536.9 228.5,535.0 231.8,535.4 C235.1,535.8 238.7,538.0 240.1,538.5" fill="none" stroke="#E66C21" stroke-width="3.5" stroke-linejoin="round" stroke-linecap="round"/>
<path d="M78.2,538.5 C79.3,538.2 81.0,540.6 84.8,537.0 C88.5,533.4 96.9,525.9 100.7,517.0 C104.5,508.1 105.2,497.5 107.4,483.6 C109.6,469.7 111.9,453.1 114.1,433.6 C116.3,414.1 118.8,386.0 120.7,366.8 C122.6,347.6 124.3,330.7 125.7,318.7 C127.1,306.7 127.7,301.4 129.0,295.0 C130.3,288.6 132.1,285.3 133.3,280.3 C134.5,275.3 135.2,268.5 136.3,265.0 C137.4,261.5 138.7,259.7 139.9,259.5 C141.1,259.3 142.4,261.9 143.5,264.0 C144.6,266.1 145.0,266.5 146.6,272.0 C148.2,277.5 151.8,289.2 153.3,297.0 C154.8,304.8 154.1,307.1 155.8,318.7 C157.5,330.3 160.6,348.2 163.3,366.8 C166.1,385.4 169.7,415.0 172.3,430.0 C174.9,445.0 176.8,447.8 179.0,456.7 C181.2,465.6 183.2,475.4 185.6,483.4 C188.0,491.4 191.0,498.6 193.7,504.8 C196.4,511.0 199.0,516.3 201.7,520.8 C204.4,525.2 206.8,529.0 209.7,531.5 C212.6,534.0 215.3,534.5 219.0,535.5 C222.7,536.5 227.7,537.0 232.0,537.5 C236.3,538.0 242.9,538.3 245.1,538.5" fill="none" stroke="#E2A3B3" stroke-width="3.5" stroke-linejoin="round" stroke-linecap="round"/>
<path d="M92.4,538.5 C93.9,538.4 98.2,538.3 101.5,537.8 C104.8,537.3 108.2,537.4 112.2,535.5 C116.2,533.6 121.7,530.9 125.5,526.2 C129.3,521.5 132.0,514.6 134.9,507.5 C137.8,500.4 140.2,491.9 142.9,483.4 C145.6,474.9 148.2,465.6 150.9,456.7 C153.6,447.8 156.7,438.6 158.9,430.0 C161.1,421.4 162.6,411.3 164.0,405.0 C165.4,398.7 166.3,397.9 167.6,392.1 C168.9,386.3 170.7,375.4 172.0,370.0 C173.3,364.6 174.3,361.7 175.5,359.5 C176.7,357.3 177.8,356.8 179.0,356.7 C180.2,356.6 180.6,356.9 183.0,359.0 C185.4,361.1 189.6,366.7 193.2,369.4 C196.8,372.1 200.9,371.3 204.5,375.1 C208.1,378.9 211.4,384.5 214.5,392.1 C217.6,399.7 219.9,411.0 223.0,420.5 C226.1,430.0 229.3,439.4 232.9,448.9 C236.5,458.4 240.1,467.8 244.3,477.3 C248.6,486.8 253.2,497.7 258.4,505.7 C263.6,513.7 268.4,520.5 275.5,525.5 C282.6,530.5 292.8,533.5 301.0,535.5 C309.2,537.5 316.0,537.1 325.0,537.6 C334.0,538.1 349.9,538.4 354.9,538.5" fill="none" stroke="#3F55BA" stroke-width="3.5" stroke-linejoin="round" stroke-linecap="round"/>
<rect x="53.8" y="73.5" width="539.9" height="482.9" fill="none" stroke="#000" stroke-width="2.2" stroke-linejoin="round"/>
<line x1="73.5" y1="556.4" x2="73.5" y2="575.8" stroke="#000" stroke-width="2.1"/>
<text x="73.5" y="624.5" font-size="31.4" text-anchor="middle">0.0</text>
<line x1="173.5" y1="556.4" x2="173.5" y2="575.8" stroke="#000" stroke-width="2.1"/>
<text x="173.5" y="624.5" font-size="31.4" text-anchor="middle">0.2</text>
<line x1="273.5" y1="556.4" x2="273.5" y2="575.8" stroke="#000" stroke-width="2.1"/>
<text x="273.5" y="624.5" font-size="31.4" text-anchor="middle">0.4</text>
<line x1="373.5" y1="556.4" x2="373.5" y2="575.8" stroke="#000" stroke-width="2.1"/>
<text x="373.5" y="624.5" font-size="31.4" text-anchor="middle">0.6</text>
<line x1="473.5" y1="556.4" x2="473.5" y2="575.8" stroke="#000" stroke-width="2.1"/>
<text x="473.5" y="624.5" font-size="31.4" text-anchor="middle">0.8</text>
<line x1="573.5" y1="556.4" x2="573.5" y2="575.8" stroke="#000" stroke-width="2.1"/>
<text x="573.5" y="624.5" font-size="31.4" text-anchor="middle">1.0</text>
<text x="323.5" y="28" font-size="37.4" font-weight="bold" text-anchor="middle">Recovery , state 2</text>
<text x="4.3" y="93.6" font-size="41.5" font-weight="bold">d</text>
<text transform="translate(27.5,314.8) rotate(-90)" font-size="31.6" text-anchor="middle">Density</text>
<line x1="249.4" y1="99.8" x2="289.5" y2="99.8" stroke="#6A090D" stroke-width="3.5" stroke-linecap="round"/>
<text x="308.2" y="107.7" font-size="22.2">Kelps</text>
<line x1="249.4" y1="126.3" x2="289.5" y2="126.3" stroke="#272727" stroke-width="3.5" stroke-linecap="round"/>
<text x="308.2" y="134.2" font-size="22.2">Substrate</text>
<line x1="249.4" y1="152.8" x2="289.5" y2="152.8" stroke="#2EC6BE" stroke-width="3.5" stroke-linecap="round"/>
<text x="308.2" y="160.7" font-size="22.2">Acorn barnacles</text>
<line x1="249.4" y1="179.3" x2="289.5" y2="179.3" stroke="#BC2D0D" stroke-width="3.5" stroke-linecap="round"/>
<text x="308.2" y="187.2" font-size="22.2">Turf algae</text>
<line x1="249.4" y1="205.8" x2="289.5" y2="205.8" stroke="#E66C21" stroke-width="3.5" stroke-linecap="round"/>
<text x="308.2" y="213.7" font-size="22.2">Branching and bladed algae</text>
<line x1="249.4" y1="232.3" x2="289.5" y2="232.3" stroke="#E2A3B3" stroke-width="3.5" stroke-linecap="round"/>
<text x="308.2" y="240.2" font-size="22.2">Crustose coralline algae</text>
<line x1="249.4" y1="258.8" x2="289.5" y2="258.8" stroke="#3F55BA" stroke-width="3.5" stroke-linecap="round"/>
<text x="308.2" y="266.7" font-size="22.2">Mussels</text>
</g>
<g transform="translate(0.0,1360.0)">
<path d="M140.0,538.5 C141.1,538.2 144.3,538.4 146.8,537.0 C149.3,535.6 152.4,533.7 155.2,530.4 C158.0,527.1 160.4,523.4 163.5,517.0 C166.6,510.6 171.0,500.3 173.5,492.0 C176.0,483.7 177.0,476.7 178.5,467.0 C180.0,457.3 181.2,447.5 182.7,433.6 C184.2,419.7 186.2,397.4 187.7,383.5 C189.2,369.6 190.8,358.0 191.9,350.1 C193.0,342.2 193.1,339.4 194.0,336.0 C194.9,332.6 196.2,331.1 197.5,330.0 C198.8,328.9 200.1,330.1 201.5,329.5 C202.9,328.9 204.8,326.1 206.1,326.7 C207.4,327.3 208.2,329.1 209.2,333.0 C210.2,336.9 210.6,341.7 211.9,350.1 C213.2,358.5 215.6,375.2 216.9,383.5 C218.2,391.8 218.0,391.7 219.5,400.0 C221.0,408.3 224.1,422.3 226.0,433.5 C227.9,444.7 229.1,455.9 231.0,467.0 C232.9,478.1 235.2,492.0 237.3,500.3 C239.4,508.6 241.8,512.7 243.4,516.9 C245.0,521.1 245.6,522.9 247.0,525.4 C248.4,527.9 249.1,530.3 251.8,531.9 C254.5,533.5 257.1,534.1 263.4,535.2 C269.6,536.3 285.0,538.0 289.3,538.5" fill="none" stroke="#6A090D" stroke-width="3.5" stroke-linejoin="round" stroke-linecap="round"/>
<path d="M88.4,538.5 C90.1,537.7 95.1,537.3 98.4,533.7 C101.7,530.1 105.3,525.4 108.4,517.0 C111.5,508.6 114.4,497.5 116.8,483.6 C119.2,469.7 120.4,453.1 122.6,433.6 C124.8,414.1 128.0,383.5 130.1,366.8 C132.2,350.1 133.6,342.0 135.1,333.4 C136.6,324.8 137.6,320.7 139.0,315.0 C140.4,309.3 142.2,302.6 143.3,299.0 C144.4,295.4 144.8,293.7 145.5,293.7 C146.2,293.7 146.6,292.4 147.7,299.0 C148.8,305.6 150.6,322.1 151.8,333.4 C153.1,344.7 153.5,352.9 155.2,366.8 C156.9,380.7 159.5,403.0 161.8,416.9 C164.1,430.8 166.7,440.2 169.0,450.2 C171.3,460.2 173.6,468.9 175.4,476.7 C177.2,484.4 178.2,490.6 180.1,496.7 C182.0,502.8 184.5,508.9 186.7,513.4 C188.9,517.9 191.2,520.3 193.4,523.4 C195.6,526.5 197.9,530.2 200.1,532.1 C202.3,534.0 203.5,533.9 206.8,535.0 C210.1,536.1 217.8,537.9 220.0,538.5" fill="none" stroke="#272727" stroke-width="3.5" stroke-linejoin="round" stroke-linecap="round"/>
<path d="M80.0,538.5 C80.8,538.2 82.3,540.6 85.0,537.0 C87.7,533.4 93.1,525.9 95.9,517.0 C98.7,508.1 99.9,497.5 101.7,483.6 C103.5,469.7 104.8,453.1 106.7,433.6 C108.7,414.1 111.6,383.5 113.4,366.8 C115.2,350.1 116.3,342.9 117.6,333.4 C118.9,323.9 119.9,315.9 121.0,310.0 C122.1,304.1 123.1,298.7 124.3,297.9 C125.5,297.1 127.0,302.1 128.0,305.0 C129.0,307.9 129.6,310.3 130.5,315.0 C131.4,319.7 132.0,324.8 133.5,333.4 C135.0,342.0 136.8,350.1 139.3,366.8 C141.8,383.5 146.1,418.1 148.5,433.6 C150.9,449.1 151.6,451.1 153.5,460.0 C155.4,468.9 157.8,478.9 160.0,486.7 C162.2,494.5 164.5,501.1 166.7,506.7 C168.9,512.3 171.2,516.2 173.4,520.1 C175.6,524.0 177.9,527.8 180.1,530.1 C182.3,532.4 183.4,532.9 186.7,534.1 C190.0,535.3 195.5,536.8 200.0,537.5 C204.5,538.2 211.3,538.3 213.6,538.5" fill="none" stroke="#BC2D0D" stroke-width="3.5" stroke-linejoin="round" stroke-linecap="round"/>
<path d="M122.4,538.5 C124.5,538.5 130.7,538.5 135.0,538.4 C139.3,538.3 144.6,538.2 148.0,538.0 C151.4,537.8 153.1,538.0 155.4,537.0 C157.7,536.0 159.9,533.8 162.0,532.1 C164.1,530.4 165.9,528.8 168.0,526.8 C170.1,524.8 172.5,523.5 174.7,520.1 C176.9,516.8 179.2,511.7 181.4,506.7 C183.6,501.7 186.1,495.6 188.1,490.0 C190.1,484.4 191.8,478.4 193.4,473.4 C195.0,468.4 196.0,464.6 197.4,460.0 C198.8,455.4 200.1,450.6 201.9,446.1 C203.7,441.6 206.1,437.3 208.0,433.0 C209.9,428.7 211.5,424.3 213.2,420.5 C214.9,416.7 216.4,412.8 218.0,410.0 C219.6,407.2 220.9,405.4 222.5,404.0 C224.1,402.6 226.0,401.5 227.6,401.3 C229.2,401.1 230.6,402.2 232.0,403.0 C233.4,403.8 233.3,402.0 235.9,406.3 C238.5,410.6 243.5,420.9 247.3,429.0 C251.1,437.1 254.8,445.6 258.6,454.6 C262.4,463.6 266.7,475.4 270.0,483.0 C273.3,490.6 274.7,493.4 278.5,500.0 C282.3,506.6 287.5,517.0 292.7,522.7 C297.9,528.4 301.2,531.5 309.7,534.0 C318.2,536.5 332.0,536.9 343.8,537.6 C355.6,538.4 374.4,538.4 380.5,538.5" fill="none" stroke="#E66C21" stroke-width="3.5" stroke-linejoin="round" stroke-linecap="round"/>
<path d="M76.7,538.5 C77.2,538.0 78.6,539.0 80.0,535.4 C81.4,531.8 83.8,525.6 85.0,517.0 C86.2,508.4 86.7,497.5 87.5,483.6 C88.3,469.7 89.2,453.1 90.0,433.6 C90.8,414.1 91.9,389.1 92.6,366.8 C93.3,344.5 93.6,314.4 94.0,300.0 C94.4,285.6 94.5,294.7 95.1,280.3 C95.7,265.9 96.8,235.8 97.6,213.6 C98.4,191.3 99.5,165.1 100.1,146.8 C100.7,128.5 100.8,113.2 101.3,104.0 C101.8,94.8 102.7,91.7 103.4,91.7 C104.1,91.7 104.8,94.8 105.5,104.0 C106.2,113.2 106.7,128.5 107.6,146.8 C108.5,165.1 109.9,191.3 110.9,213.6 C111.9,235.8 112.8,262.8 113.4,280.3 C114.0,297.8 113.9,304.3 114.5,318.7 C115.1,333.1 115.6,347.6 116.8,366.8 C118.0,386.0 120.1,414.1 121.8,433.6 C123.5,453.1 125.1,471.1 126.8,483.6 C128.5,496.1 130.3,503.1 131.8,508.7 C133.3,514.3 134.6,513.4 136.0,517.0 C137.4,520.6 138.3,527.1 140.1,530.4 C141.9,533.7 144.3,535.6 146.8,537.0 C149.3,538.4 153.8,538.2 155.2,538.5" fill="none" stroke="#806468" stroke-width="3.5" stroke-linejoin="round" stroke-linecap="round"/>
<path d="M76.0,538.5 C77.0,538.2 78.8,540.6 81.7,537.0 C84.6,533.4 90.6,525.9 93.4,517.0 C96.2,508.1 97.0,497.5 98.4,483.6 C99.8,469.7 100.5,453.1 101.7,433.6 C103.0,414.1 104.4,388.2 105.9,366.8 C107.4,345.4 109.2,319.4 110.5,305.0 C111.8,290.6 112.4,288.8 113.4,280.3 C114.4,271.8 115.4,259.6 116.4,254.0 C117.4,248.4 118.3,246.9 119.3,246.9 C120.3,246.9 121.1,248.4 122.2,254.0 C123.3,259.6 125.0,272.6 125.9,280.3 C126.8,288.0 127.1,293.6 127.8,300.0 C128.5,306.4 129.2,307.6 130.1,318.7 C131.0,329.8 131.8,347.6 133.5,366.8 C135.2,386.0 137.6,414.1 140.1,433.6 C142.6,453.1 145.7,471.1 148.5,483.6 C151.3,496.1 154.0,501.7 156.8,508.7 C159.6,515.7 161.8,520.9 165.2,525.4 C168.5,529.9 171.1,533.2 176.9,535.4 C182.7,537.6 196.3,538.0 200.2,538.5" fill="none" stroke="#E2A3B3" stroke-width="3.5" stroke-linejoin="round" stroke-linecap="round"/>
<rect x="53.8" y="73.5" width="539.9" height="482.9" fill="none" stroke="#000" stroke-width="2.2" stroke-linejoin="round"/>
<line x1="73.5" y1="556.4" x2="73.5" y2="575.8" stroke="#000" stroke-width="2.1"/>
<text x="73.5" y="624.5" font-size="31.4" text-anchor="middle">0.0</text>
<line x1="173.5" y1="556.4" x2="173.5" y2="575.8" stroke="#000" stroke-width="2.1"/>
<text x="173.5" y="624.5" font-size="31.4" text-anchor="middle">0.2</text>
<line x1="273.5" y1="556.4" x2="273.5" y2="575.8" stroke="#000" stroke-width="2.1"/>
<text x="273.5" y="624.5" font-size="31.4" text-anchor="middle">0.4</text>
<line x1="373.5" y1="556.4" x2="373.5" y2="575.8" stroke="#000" stroke-width="2.1"/>
<text x="373.5" y="624.5" font-size="31.4" text-anchor="middle">0.6</text>
<line x1="473.5" y1="556.4" x2="473.5" y2="575.8" stroke="#000" stroke-width="2.1"/>
<text x="473.5" y="624.5" font-size="31.4" text-anchor="middle">0.8</text>
<line x1="573.5" y1="556.4" x2="573.5" y2="575.8" stroke="#000" stroke-width="2.1"/>
<text x="573.5" y="624.5" font-size="31.4" text-anchor="middle">1.0</text>
<text x="321.7" y="28" font-size="37.4" font-weight="bold" text-anchor="middle">Macrophyte-only , state 1</text>
<text x="0.6" y="93.6" font-size="41.5" font-weight="bold">e</text>
<text transform="translate(27.5,314.8) rotate(-90)" font-size="31.6" text-anchor="middle">Density</text>
<line x1="249.4" y1="99.8" x2="289.5" y2="99.8" stroke="#6A090D" stroke-width="3.5" stroke-linecap="round"/>
<text x="308.2" y="107.7" font-size="22.2">Kelps</text>
<line x1="249.4" y1="126.3" x2="289.5" y2="126.3" stroke="#272727" stroke-width="3.5" stroke-linecap="round"/>
<text x="308.2" y="134.2" font-size="22.2">Substrate</text>
<line x1="249.4" y1="152.8" x2="289.5" y2="152.8" stroke="#BC2D0D" stroke-width="3.5" stroke-linecap="round"/>
<text x="308.2" y="160.7" font-size="22.2">Turf algae</text>
<line x1="249.4" y1="179.3" x2="289.5" y2="179.3" stroke="#E66C21" stroke-width="3.5" stroke-linecap="round"/>
<text x="308.2" y="187.2" font-size="22.2">Branching and bladed algae</text>
<line x1="249.4" y1="205.8" x2="289.5" y2="205.8" stroke="#806468" stroke-width="3.5" stroke-linecap="round"/>
<text x="308.2" y="213.7" font-size="22.2">Crustose fleshy algae</text>
<line x1="249.4" y1="232.3" x2="289.5" y2="232.3" stroke="#E2A3B3" stroke-width="3.5" stroke-linecap="round"/>
<text x="308.2" y="240.2" font-size="22.2">Crustose coralline algae</text>
</g>
<g transform="translate(661.2,1360.0)">
<path d="M99.9,538.5 C101.2,537.7 105.5,537.3 107.4,533.7 C109.4,530.1 110.1,525.4 111.6,517.0 C113.1,508.6 114.8,497.5 116.6,483.6 C118.4,469.7 120.6,453.1 122.4,433.6 C124.2,414.1 126.2,386.0 127.4,366.8 C128.6,347.6 128.9,333.1 129.5,318.7 C130.1,304.3 130.3,292.2 130.8,280.3 C131.3,268.4 131.6,260.9 132.4,247.0 C133.2,233.1 134.6,213.6 135.8,196.9 C137.1,180.2 138.7,161.0 139.9,146.8 C141.1,132.7 141.9,119.0 143.0,112.0 C144.1,105.0 145.2,105.0 146.3,105.0 C147.4,105.0 148.2,105.0 149.6,112.0 C151.0,119.0 153.3,132.7 155.0,146.8 C156.7,161.0 158.5,180.2 160.0,196.9 C161.5,213.6 162.7,233.1 164.1,247.0 C165.5,260.9 167.2,270.6 168.3,280.3 C169.4,290.0 169.4,290.6 170.5,305.0 C171.6,319.4 173.1,345.4 175.0,366.8 C176.9,388.2 179.2,414.1 181.7,433.6 C184.2,453.1 187.2,469.7 190.0,483.6 C192.8,497.5 195.9,509.5 198.4,517.0 C200.9,524.5 203.2,527.0 205.0,528.7 C206.8,530.4 207.5,528.1 209.0,527.0 C210.5,525.9 212.5,522.2 214.2,522.0 C215.9,521.8 217.2,524.3 219.0,526.0 C220.8,527.7 222.4,531.3 225.1,532.0 C227.8,532.7 232.0,531.5 235.1,530.4 C238.2,529.3 241.2,525.6 243.4,525.4 C245.6,525.2 246.6,527.6 248.0,529.0 C249.4,530.4 249.2,532.4 252.0,533.7 C254.8,535.0 260.2,536.2 265.0,537.0 C269.8,537.8 277.9,538.2 280.5,538.5" fill="none" stroke="#6A090D" stroke-width="3.5" stroke-linejoin="round" stroke-linecap="round"/>
<path d="M91.0,538.5 C92.9,536.8 98.4,536.2 102.4,528.4 C106.4,520.6 111.5,504.8 115.1,491.5 C118.6,478.2 121.3,465.5 123.7,448.9 C126.1,432.3 127.4,411.0 129.3,392.1 C131.2,373.2 133.3,349.6 135.0,335.4 C136.7,321.2 137.7,316.5 139.3,307.0 C141.0,297.5 143.0,286.2 144.9,278.6 C146.8,271.0 148.8,265.9 150.6,261.6 C152.4,257.3 153.8,254.9 155.5,253.0 C157.2,251.1 159.0,249.5 160.5,250.3 C162.0,251.1 163.3,254.2 164.5,258.0 C165.7,261.8 166.1,264.8 167.6,273.0 C169.1,281.2 170.9,294.2 173.3,307.0 C175.7,319.8 178.5,335.4 181.8,349.6 C185.1,363.8 190.3,378.7 193.2,392.1 C196.1,405.5 196.7,418.1 199.0,430.0 C201.3,441.9 204.3,453.4 207.0,463.4 C209.7,473.4 212.3,482.3 215.0,490.1 C217.7,497.9 220.3,504.5 223.0,510.1 C225.7,515.7 228.4,519.9 231.0,523.5 C233.6,527.1 235.6,529.4 238.8,531.5 C242.0,533.6 246.1,534.9 250.0,536.0 C253.9,537.1 257.8,537.6 262.0,538.0 C266.2,538.4 273.2,538.4 275.5,538.5" fill="none" stroke="#272727" stroke-width="3.5" stroke-linejoin="round" stroke-linecap="round"/>
<path d="M78.0,538.5 C79.3,537.9 83.5,538.6 86.0,535.0 C88.5,531.4 91.1,525.6 93.2,517.0 C95.3,508.4 96.9,497.5 98.5,483.6 C100.1,469.7 101.4,453.1 103.0,433.6 C104.6,414.1 106.3,387.4 108.0,366.8 C109.7,346.2 111.6,327.2 113.0,310.0 C114.4,292.8 115.4,279.7 116.6,263.6 C117.8,247.5 118.7,230.3 119.9,213.6 C121.2,196.9 122.8,178.8 124.1,163.5 C125.3,148.2 126.4,130.1 127.4,122.0 C128.4,113.9 129.4,115.1 130.3,115.1 C131.2,115.1 132.4,116.7 133.0,122.0 C133.6,127.3 133.2,134.3 134.1,146.8 C135.0,159.3 136.5,180.2 138.3,196.9 C140.1,213.6 143.1,233.1 145.0,247.0 C146.9,260.9 148.6,270.6 150.0,280.3 C151.4,290.0 151.8,290.6 153.5,305.0 C155.2,319.4 157.2,345.4 160.0,366.8 C162.8,388.2 166.7,414.1 170.0,433.6 C173.3,453.1 176.7,469.7 180.0,483.6 C183.3,497.5 186.4,508.6 190.0,517.0 C193.6,525.4 197.5,530.3 201.7,533.7 C205.9,537.1 210.3,536.7 215.0,537.5 C219.7,538.3 227.5,538.3 230.0,538.5" fill="none" stroke="#BC2D0D" stroke-width="3.5" stroke-linejoin="round" stroke-linecap="round"/>
<path d="M91.0,538.5 C93.4,538.5 101.3,538.5 105.5,538.4 C109.7,538.3 112.9,538.1 116.0,537.8 C119.1,537.4 120.8,538.2 124.2,536.3 C127.6,534.4 132.2,531.7 136.2,526.2 C140.2,520.7 144.4,512.9 148.2,503.5 C152.0,494.1 155.3,482.2 158.9,470.0 C162.5,457.8 167.2,440.6 169.6,430.0 C172.0,419.4 170.8,417.3 173.3,406.3 C175.8,395.3 181.6,374.9 184.7,363.8 C187.8,352.8 189.7,347.1 192.0,340.0 C194.3,332.9 196.8,325.7 198.8,321.2 C200.8,316.7 202.1,314.9 204.0,313.0 C205.9,311.1 208.2,309.7 210.2,309.9 C212.2,310.1 214.1,311.2 216.0,314.0 C217.9,316.8 219.8,321.7 221.5,326.9 C223.2,332.1 224.6,338.9 226.0,345.0 C227.4,351.1 228.5,358.3 230.1,363.8 C231.7,369.3 233.3,370.9 235.7,378.0 C238.1,385.1 240.5,393.1 244.3,406.3 C248.1,419.5 253.2,441.8 258.4,457.4 C263.6,473.0 269.8,489.1 275.5,500.0 C281.2,510.9 285.9,517.0 292.5,522.7 C299.1,528.4 308.1,531.6 315.2,534.0 C322.3,536.4 327.9,536.5 335.0,537.3 C342.1,538.0 354.0,538.3 357.8,538.5" fill="none" stroke="#E66C21" stroke-width="3.5" stroke-linejoin="round" stroke-linecap="round"/>
<path d="M78.0,538.5 C79.4,537.7 83.7,537.3 86.5,533.7 C89.3,530.1 92.7,525.4 94.9,517.0 C97.1,508.6 98.4,497.5 99.9,483.6 C101.4,469.7 102.6,453.1 104.0,433.6 C105.4,414.1 107.1,387.4 108.2,366.8 C109.3,346.2 110.0,330.0 110.8,310.0 C111.6,290.0 112.2,268.6 113.2,247.0 C114.2,225.4 115.6,199.7 116.6,180.2 C117.6,160.7 118.2,143.5 119.1,130.1 C120.0,116.7 120.7,106.3 121.8,100.0 C122.9,93.7 124.4,92.5 125.7,92.5 C127.0,92.5 128.3,96.5 129.6,100.0 C130.9,103.5 132.1,105.6 133.3,113.4 C134.5,121.2 135.3,132.9 136.6,146.8 C137.8,160.7 139.4,180.2 140.8,196.9 C142.2,213.6 143.9,233.1 145.0,247.0 C146.1,260.9 146.6,269.8 147.4,280.3 C148.2,290.8 148.6,295.6 150.0,310.0 C151.4,324.4 153.3,346.2 155.8,366.8 C158.3,387.4 162.1,414.1 165.0,433.6 C167.9,453.1 170.8,471.1 173.3,483.6 C175.8,496.1 177.8,502.3 180.0,508.7 C182.2,515.1 183.6,518.4 186.7,522.0 C189.8,525.6 194.5,528.2 198.4,530.4 C202.3,532.6 205.6,534.1 210.0,535.4 C214.4,536.7 220.8,537.5 225.0,538.0 C229.2,538.5 233.3,538.4 235.0,538.5" fill="none" stroke="#806468" stroke-width="3.5" stroke-linejoin="round" stroke-linecap="round"/>
<path d="M71.5,538.5 C72.9,538.2 76.8,538.7 80.0,536.5 C83.2,534.3 87.8,533.0 91.0,525.5 C94.2,518.0 97.1,504.3 99.5,491.5 C101.9,478.7 103.3,465.5 105.2,448.9 C107.1,432.3 109.0,413.4 110.9,392.1 C112.8,370.8 114.2,342.5 116.6,321.2 C119.0,299.9 122.3,280.9 125.1,264.4 C127.9,247.8 131.5,232.3 133.6,221.9 C135.7,211.5 136.3,206.7 137.5,202.0 C138.7,197.3 139.8,194.0 140.7,193.5 C141.6,193.0 142.3,196.6 143.0,199.0 C143.7,201.4 143.6,199.1 144.9,207.7 C146.2,216.2 148.5,233.8 150.6,250.3 C152.7,266.9 155.3,288.1 157.7,307.0 C160.1,325.9 162.2,344.9 164.8,363.8 C167.4,382.7 170.0,401.6 173.3,420.5 C176.6,439.4 180.9,461.7 184.7,477.3 C188.5,492.9 191.8,504.8 196.0,514.2 C200.2,523.7 203.6,530.0 210.2,534.0 C216.8,538.0 231.4,537.8 235.7,538.5" fill="none" stroke="#E2A3B3" stroke-width="3.5" stroke-linejoin="round" stroke-linecap="round"/>
<rect x="53.8" y="73.5" width="539.9" height="482.9" fill="none" stroke="#000" stroke-width="2.2" stroke-linejoin="round"/>
<line x1="73.5" y1="556.4" x2="73.5" y2="575.8" stroke="#000" stroke-width="2.1"/>
<text x="73.5" y="624.5" font-size="31.4" text-anchor="middle">0.0</text>
<line x1="173.5" y1="556.4" x2="173.5" y2="575.8" stroke="#000" stroke-width="2.1"/>
<text x="173.5" y="624.5" font-size="31.4" text-anchor="middle">0.2</text>
<line x1="273.5" y1="556.4" x2="273.5" y2="575.8" stroke="#000" stroke-width="2.1"/>
<text x="273.5" y="624.5" font-size="31.4" text-anchor="middle">0.4</text>
<line x1="373.5" y1="556.4" x2="373.5" y2="575.8" stroke="#000" stroke-width="2.1"/>
<text x="373.5" y="624.5" font-size="31.4" text-anchor="middle">0.6</text>
<line x1="473.5" y1="556.4" x2="473.5" y2="575.8" stroke="#000" stroke-width="2.1"/>
<text x="473.5" y="624.5" font-size="31.4" text-anchor="middle">0.8</text>
<line x1="573.5" y1="556.4" x2="573.5" y2="575.8" stroke="#000" stroke-width="2.1"/>
<text x="573.5" y="624.5" font-size="31.4" text-anchor="middle">1.0</text>
<text x="323.5" y="28" font-size="37.4" font-weight="bold" text-anchor="middle">Macrophyte-only , state 2</text>
<text x="4.3" y="93.6" font-size="41.5" font-weight="bold">f</text>
<text transform="translate(27.5,314.8) rotate(-90)" font-size="31.6" text-anchor="middle">Density</text>
<line x1="249.4" y1="99.8" x2="289.5" y2="99.8" stroke="#6A090D" stroke-width="3.5" stroke-linecap="round"/>
<text x="308.2" y="107.7" font-size="22.2">Kelps</text>
<line x1="249.4" y1="126.3" x2="289.5" y2="126.3" stroke="#272727" stroke-width="3.5" stroke-linecap="round"/>
<text x="308.2" y="134.2" font-size="22.2">Substrate</text>
<line x1="249.4" y1="152.8" x2="289.5" y2="152.8" stroke="#BC2D0D" stroke-width="3.5" stroke-linecap="round"/>
<text x="308.2" y="160.7" font-size="22.2">Turf algae</text>
<line x1="249.4" y1="179.3" x2="289.5" y2="179.3" stroke="#E66C21" stroke-width="3.5" stroke-linecap="round"/>
<text x="308.2" y="187.2" font-size="22.2">Branching and bladed algae</text>
<line x1="249.4" y1="205.8" x2="289.5" y2="205.8" stroke="#806468" stroke-width="3.5" stroke-linecap="round"/>
<text x="308.2" y="213.7" font-size="22.2">Crustose fleshy algae</text>
<line x1="249.4" y1="232.3" x2="289.5" y2="232.3" stroke="#E2A3B3" stroke-width="3.5" stroke-linecap="round"/>
<text x="308.2" y="240.2" font-size="22.2">Crustose coralline algae</text>
</g>
<g transform="translate(0.0,2040.0)">
<path d="M144.3,538.5 C147.0,538.5 155.0,539.1 160.2,538.3 C165.3,537.5 170.8,535.9 175.2,533.7 C179.6,531.6 183.3,529.6 186.9,525.4 C190.5,521.2 194.7,513.2 196.9,508.7 C199.1,504.2 198.3,502.8 200.0,498.6 C201.7,494.4 205.4,487.8 206.9,483.6 C208.4,479.4 207.8,479.2 209.2,473.6 C210.6,468.0 213.9,455.8 215.3,450.2 C216.7,444.6 216.1,446.1 217.5,440.2 C218.9,434.3 221.9,421.7 223.8,415.0 C225.7,408.3 227.3,403.8 229.0,400.0 C230.7,396.2 232.0,395.1 234.0,392.0 C236.0,388.9 238.9,384.9 240.9,381.7 C242.9,378.4 244.4,374.8 246.0,372.5 C247.6,370.2 249.0,368.4 250.3,368.2 C251.6,368.0 252.8,369.2 254.0,371.5 C255.2,373.8 255.8,375.8 257.6,381.7 C259.5,387.6 262.5,398.4 265.1,406.8 C267.8,415.2 270.7,423.5 273.5,431.8 C276.3,440.1 279.3,448.5 281.8,456.9 C284.3,465.2 286.0,473.6 288.5,481.9 C291.0,490.2 293.8,499.9 296.8,506.9 C299.9,513.9 303.2,518.9 306.8,523.6 C310.4,528.3 313.0,532.9 318.5,535.3 C324.0,537.7 328.7,537.5 340.0,538.0 C351.3,538.5 378.4,538.4 386.1,538.5" fill="none" stroke="#272727" stroke-width="3.5" stroke-linejoin="round" stroke-linecap="round"/>
<path d="M75.0,538.5 C76.0,537.7 79.3,537.3 80.8,533.7 C82.3,530.1 83.4,525.4 84.2,517.0 C85.0,508.6 85.1,497.5 85.8,483.6 C86.5,469.7 87.5,453.1 88.3,433.6 C89.1,414.1 90.2,387.4 90.8,366.8 C91.4,346.2 91.4,324.4 91.8,310.0 C92.2,295.6 92.7,297.0 93.4,280.3 C94.1,263.6 95.4,227.0 96.1,210.0 C96.8,193.0 96.9,191.3 97.4,178.2 C97.9,165.1 98.8,143.8 99.3,131.6 C99.8,119.4 100.1,110.6 100.6,105.0 C101.1,99.4 101.5,96.3 102.3,98.0 C103.1,99.7 104.5,106.3 105.5,115.0 C106.5,123.7 107.1,135.8 108.0,150.0 C108.9,164.2 110.0,181.7 111.0,200.0 C112.0,218.3 112.8,240.0 114.0,260.0 C115.2,280.0 116.5,302.5 118.0,320.0 C119.5,337.5 121.2,352.5 123.0,365.0 C124.8,377.5 127.2,386.7 129.0,395.0 C130.8,403.3 132.1,407.5 133.5,415.0 C134.9,422.5 136.2,431.2 137.5,440.0 C138.8,448.8 140.0,459.5 141.4,467.5 C142.8,475.5 144.6,482.3 146.0,488.0 C147.4,493.7 148.2,497.1 150.0,501.7 C151.8,506.3 154.5,510.5 156.8,515.4 C159.1,520.2 161.4,527.3 163.6,530.8 C165.8,534.3 167.8,535.2 170.0,536.5 C172.2,537.8 175.8,538.2 177.0,538.5" fill="none" stroke="#2EC6BE" stroke-width="3.5" stroke-linejoin="round" stroke-linecap="round"/>
<path d="M74.2,538.5 C75.2,537.7 78.5,537.3 80.0,533.7 C81.5,530.1 82.6,525.4 83.4,517.0 C84.2,508.6 84.3,497.5 85.0,483.6 C85.7,469.7 86.7,453.1 87.5,433.6 C88.3,414.1 89.4,387.4 90.0,366.8 C90.6,346.2 90.6,324.4 91.0,310.0 C91.4,295.6 91.9,297.0 92.6,280.3 C93.3,263.6 94.6,227.0 95.3,210.0 C96.0,193.0 96.1,191.3 96.6,178.2 C97.1,165.1 98.0,144.6 98.5,131.6 C99.0,118.6 99.2,106.8 99.7,100.0 C100.2,93.2 101.0,90.6 101.7,90.6 C102.4,90.6 103.3,97.0 103.8,100.0 C104.3,103.0 104.3,103.0 104.8,108.3 C105.3,113.6 106.4,123.8 106.9,131.6 C107.4,139.4 107.5,147.1 108.0,154.9 C108.5,162.7 109.3,169.9 109.9,178.2 C110.5,186.5 111.2,189.2 111.8,204.7 C112.3,220.1 112.4,251.3 113.2,270.9 C114.0,290.5 115.3,305.1 116.6,322.2 C117.9,339.3 119.3,356.4 120.9,373.5 C122.5,390.6 124.0,409.1 126.0,424.8 C128.0,440.5 130.6,454.7 132.9,467.5 C135.2,480.3 137.7,492.9 139.7,501.7 C141.7,510.5 143.1,516.7 144.8,520.5 C146.5,524.3 148.0,522.5 150.0,524.5 C152.0,526.5 154.6,530.4 156.8,532.5 C159.1,534.6 161.3,536.0 163.5,537.0 C165.7,538.0 168.9,538.2 170.0,538.5" fill="none" stroke="#378BE0" stroke-width="3.5" stroke-linejoin="round" stroke-linecap="round"/>
<path d="M93.0,538.5 C93.9,538.2 96.4,538.4 98.4,537.0 C100.4,535.6 102.9,532.9 105.1,530.4 C107.3,527.9 109.6,525.6 111.8,522.0 C114.0,518.4 116.5,515.1 118.4,508.7 C120.3,502.3 121.7,493.4 123.4,483.6 C125.1,473.9 126.7,461.3 128.4,450.2 C130.1,439.1 131.8,428.0 133.5,416.9 C135.2,405.8 136.3,394.6 138.5,383.5 C140.7,372.4 144.6,359.4 146.8,350.1 C149.1,340.9 150.6,333.9 152.0,328.0 C153.4,322.1 154.4,317.9 155.5,315.0 C156.6,312.1 157.5,310.9 158.5,310.9 C159.5,310.9 160.4,311.8 161.5,315.0 C162.6,318.2 163.8,324.1 165.0,330.0 C166.2,335.9 166.8,341.2 168.5,350.1 C170.2,359.0 173.2,372.4 175.2,383.5 C177.1,394.6 178.5,405.8 180.2,416.9 C181.9,428.0 183.0,439.1 185.2,450.2 C187.4,461.3 191.1,475.5 193.6,483.6 C196.1,491.7 198.3,494.4 200.0,498.6 C201.7,502.8 202.2,505.9 203.6,508.7 C205.0,511.5 206.9,513.1 208.3,515.3 C209.7,517.5 210.5,519.8 211.9,522.0 C213.3,524.2 214.5,526.8 216.7,528.6 C218.9,530.4 222.2,531.9 225.0,533.0 C227.8,534.1 229.8,534.8 233.4,535.3 C237.0,535.8 243.1,535.8 246.7,536.2 C250.3,536.6 251.5,537.1 255.0,537.5 C258.5,537.9 265.5,538.3 267.6,538.5" fill="none" stroke="#806468" stroke-width="3.5" stroke-linejoin="round" stroke-linecap="round"/>
<path d="M83.4,538.5 C85.1,538.5 87.8,538.8 93.4,538.3 C99.0,537.8 110.7,537.5 116.8,535.4 C122.9,533.2 126.2,529.9 130.1,525.4 C134.0,520.9 137.0,515.7 140.1,508.7 C143.2,501.7 146.0,490.6 148.5,483.6 C151.0,476.7 153.0,472.6 155.2,467.0 C157.4,461.4 159.3,455.8 161.8,450.2 C164.3,444.6 167.4,440.6 170.2,433.6 C173.0,426.7 176.6,414.3 178.5,408.5 C180.4,402.7 180.5,401.2 181.5,399.0 C182.5,396.8 183.3,395.4 184.4,395.2 C185.5,395.0 186.6,396.7 188.0,398.0 C189.4,399.3 191.2,401.8 193.0,403.0 C194.8,404.2 196.6,404.7 198.6,405.2 C200.6,405.7 203.5,405.2 205.2,406.0 C206.9,406.8 207.9,408.5 209.0,410.0 C210.1,411.5 210.4,411.2 211.7,415.1 C213.0,419.0 215.7,429.4 216.9,433.6 C218.1,437.8 216.9,434.8 218.8,440.2 C220.7,445.6 225.3,458.9 228.5,466.0 C231.7,473.1 235.2,476.8 238.0,482.5 C240.8,488.2 243.3,496.2 245.3,500.3 C247.3,504.4 247.9,504.4 250.1,506.9 C252.3,509.4 255.3,513.1 258.4,515.3 C261.4,517.5 264.8,518.6 268.4,520.3 C272.0,522.0 275.9,523.3 280.1,525.3 C284.3,527.2 288.5,530.0 293.5,532.0 C298.5,534.0 302.4,536.0 310.2,537.0 C317.9,538.0 330.8,538.0 340.0,538.2 C349.2,538.5 361.1,538.5 365.3,538.5" fill="none" stroke="#E2A3B3" stroke-width="3.5" stroke-linejoin="round" stroke-linecap="round"/>
<path d="M76.7,538.5 C78.1,537.7 82.8,537.3 85.0,533.7 C87.2,530.1 88.7,525.4 90.0,517.0 C91.3,508.6 91.8,497.5 92.6,483.6 C93.4,469.7 94.3,453.1 95.1,433.6 C95.9,414.1 96.9,387.4 97.6,366.8 C98.3,346.2 98.7,324.5 99.2,310.0 C99.7,295.5 100.0,293.3 100.6,280.0 C101.2,266.7 101.9,245.3 102.6,230.3 C103.2,215.3 103.8,202.6 104.5,190.0 C105.2,177.4 106.1,162.7 106.6,154.9 C107.1,147.1 107.2,146.0 107.7,143.0 C108.2,140.0 109.1,136.7 109.7,136.7 C110.3,136.7 111.1,140.0 111.6,143.0 C112.1,146.0 112.2,149.0 112.7,154.9 C113.2,160.8 114.2,168.8 114.8,178.2 C115.4,187.6 115.7,201.3 116.6,211.1 C117.5,220.9 119.0,226.8 120.0,236.8 C121.0,246.8 121.6,256.7 122.6,270.9 C123.6,285.1 124.9,305.1 126.0,322.2 C127.1,339.3 128.2,356.4 129.4,373.5 C130.6,390.6 131.5,409.1 132.9,424.8 C134.3,440.5 136.3,454.7 138.0,467.5 C139.7,480.3 141.4,493.1 143.1,501.7 C144.8,510.2 145.9,514.2 148.2,518.8 C150.5,523.4 154.0,526.4 156.8,529.1 C159.6,531.8 161.7,533.7 165.0,535.0 C168.3,536.3 173.6,536.6 176.9,537.0 C180.2,537.4 182.2,537.6 185.0,537.5 C187.8,537.4 190.8,536.0 193.6,536.2 C196.4,536.4 200.5,538.1 201.9,538.5" fill="none" stroke="#3F55BA" stroke-width="3.5" stroke-linejoin="round" stroke-linecap="round"/>
<rect x="53.8" y="73.5" width="539.9" height="482.9" fill="none" stroke="#000" stroke-width="2.2" stroke-linejoin="round"/>
<line x1="73.5" y1="556.4" x2="73.5" y2="575.8" stroke="#000" stroke-width="2.1"/>
<text x="73.5" y="624.5" font-size="31.4" text-anchor="middle">0.0</text>
<line x1="173.5" y1="556.4" x2="173.5" y2="575.8" stroke="#000" stroke-width="2.1"/>
<text x="173.5" y="624.5" font-size="31.4" text-anchor="middle">0.2</text>
<line x1="273.5" y1="556.4" x2="273.5" y2="575.8" stroke="#000" stroke-width="2.1"/>
<text x="273.5" y="624.5" font-size="31.4" text-anchor="middle">0.4</text>
<line x1="373.5" y1="556.4" x2="373.5" y2="575.8" stroke="#000" stroke-width="2.1"/>
<text x="373.5" y="624.5" font-size="31.4" text-anchor="middle">0.6</text>
<line x1="473.5" y1="556.4" x2="473.5" y2="575.8" stroke="#000" stroke-width="2.1"/>
<text x="473.5" y="624.5" font-size="31.4" text-anchor="middle">0.8</text>
<line x1="573.5" y1="556.4" x2="573.5" y2="575.8" stroke="#000" stroke-width="2.1"/>
<text x="573.5" y="624.5" font-size="31.4" text-anchor="middle">1.0</text>
<text x="321.7" y="28" font-size="37.4" font-weight="bold" text-anchor="middle">Invertebrate-only , state 1</text>
<text x="0.6" y="93.6" font-size="41.5" font-weight="bold">g</text>
<text transform="translate(27.5,314.8) rotate(-90)" font-size="31.6" text-anchor="middle">Density</text>
<line x1="287.7" y1="99.8" x2="327.8" y2="99.8" stroke="#272727" stroke-width="3.5" stroke-linecap="round"/>
<text x="346.5" y="107.7" font-size="22.2">Substrate</text>
<line x1="287.7" y1="126.3" x2="327.8" y2="126.3" stroke="#2EC6BE" stroke-width="3.5" stroke-linecap="round"/>
<text x="346.5" y="134.2" font-size="22.2">Acorn barnacles</text>
<line x1="287.7" y1="152.8" x2="327.8" y2="152.8" stroke="#378BE0" stroke-width="3.5" stroke-linecap="round"/>
<text x="346.5" y="160.7" font-size="22.2">Gooseneck barnacles</text>
<line x1="287.7" y1="179.3" x2="327.8" y2="179.3" stroke="#806468" stroke-width="3.5" stroke-linecap="round"/>
<text x="346.5" y="187.2" font-size="22.2">Crustose fleshy algae</text>
<line x1="287.7" y1="205.8" x2="327.8" y2="205.8" stroke="#E2A3B3" stroke-width="3.5" stroke-linecap="round"/>
<text x="346.5" y="213.7" font-size="22.2">Crustose coralline algae</text>
<line x1="287.7" y1="232.3" x2="327.8" y2="232.3" stroke="#3F55BA" stroke-width="3.5" stroke-linecap="round"/>
<text x="346.5" y="240.2" font-size="22.2">Mussels</text>
<text x="323.5" y="2702.8" font-size="31.6" text-anchor="middle" transform="translate(0,-2040)">Conditional probability</text>
</g>
<g transform="translate(661.2,2040.0)">
<path d="M101.5,538.5 C102.9,537.7 107.5,537.3 109.9,533.7 C112.3,530.1 114.2,525.4 115.7,517.0 C117.2,508.6 118.0,497.5 119.1,483.6 C120.2,469.7 121.2,453.1 122.4,433.6 C123.7,414.1 125.3,386.0 126.6,366.8 C127.8,347.6 128.9,333.1 129.9,318.7 C130.9,304.3 131.4,295.0 132.4,280.3 C133.4,265.6 134.8,247.0 135.8,230.3 C136.8,213.6 137.3,196.9 138.3,180.2 C139.3,163.5 140.8,143.3 141.6,130.1 C142.4,116.9 142.5,107.4 143.1,101.0 C143.7,94.6 144.6,91.7 145.3,91.7 C146.1,91.7 146.8,94.6 147.6,101.0 C148.4,107.4 149.1,116.9 150.0,130.1 C150.9,143.3 152.2,163.5 153.3,180.2 C154.4,196.9 155.5,213.6 156.6,230.3 C157.7,247.0 159.2,267.0 160.0,280.3 C160.8,293.6 160.7,295.6 161.5,310.0 C162.3,324.4 163.6,349.0 165.0,366.8 C166.4,384.6 168.3,400.2 170.0,416.9 C171.7,433.6 173.3,453.1 175.0,467.0 C176.7,480.9 177.8,490.6 180.0,500.3 C182.2,510.0 185.5,519.5 188.3,525.4 C191.1,531.2 194.2,533.2 196.7,535.4 C199.2,537.6 202.3,538.0 203.4,538.5" fill="none" stroke="#272727" stroke-width="3.5" stroke-linejoin="round" stroke-linecap="round"/>
<path d="M78.0,538.5 C79.3,538.0 83.3,538.6 86.0,535.5 C88.7,532.4 91.2,529.5 93.9,519.8 C96.6,510.1 99.8,493.9 102.4,477.3 C105.0,460.8 107.4,439.4 109.5,420.5 C111.6,401.6 113.2,382.7 115.1,363.8 C117.0,344.9 119.2,321.8 120.8,307.0 C122.4,292.2 123.5,283.2 124.5,275.0 C125.5,266.8 126.2,262.7 127.0,258.0 C127.8,253.3 127.9,250.2 129.1,247.0 C130.3,243.8 132.9,241.3 134.1,238.6 C135.3,235.9 135.7,232.8 136.5,231.0 C137.3,229.2 138.2,227.5 139.1,227.7 C139.9,227.9 140.8,228.8 141.6,232.0 C142.4,235.2 143.1,238.9 144.1,247.0 C145.1,255.1 146.4,271.5 147.4,280.3 C148.4,289.1 149.0,293.6 149.8,300.0 C150.6,306.4 150.6,307.6 152.0,318.7 C153.4,329.8 155.6,347.6 158.3,366.8 C161.0,386.0 165.2,414.1 168.3,433.6 C171.4,453.1 173.6,469.7 176.7,483.6 C179.8,497.5 183.1,508.6 186.7,517.0 C190.3,525.4 194.5,530.1 198.4,533.7 C202.3,537.3 208.1,537.7 210.0,538.5" fill="none" stroke="#2EC6BE" stroke-width="3.5" stroke-linejoin="round" stroke-linecap="round"/>
<path d="M84.0,538.5 C85.5,537.8 90.2,537.6 93.0,534.0 C95.8,530.4 98.4,525.4 100.5,517.0 C102.6,508.6 103.8,497.5 105.5,483.6 C107.2,469.7 108.7,453.1 110.5,433.6 C112.3,414.1 114.6,386.0 116.3,366.8 C118.0,347.6 119.4,333.1 120.7,318.7 C122.0,304.3 122.6,292.2 124.1,280.3 C125.6,268.4 128.5,253.7 129.9,247.0 C131.3,240.3 131.7,241.5 132.5,240.0 C133.3,238.5 134.0,237.3 134.9,237.8 C135.8,238.3 136.9,240.1 138.0,243.0 C139.1,245.9 140.3,252.3 141.6,255.3 C142.8,258.3 144.2,259.6 145.5,261.0 C146.8,262.4 148.1,261.3 149.1,263.6 C150.1,265.9 150.8,270.6 151.5,275.0 C152.2,279.4 152.8,285.0 153.5,290.0 C154.2,295.0 155.3,300.2 156.0,305.0 C156.7,309.8 156.8,308.4 157.5,318.7 C158.2,329.0 158.4,347.6 160.5,366.8 C162.6,386.0 167.0,414.1 170.0,433.6 C173.0,453.1 175.0,469.7 178.3,483.6 C181.6,497.5 186.9,510.0 190.0,517.0 C193.1,524.0 193.9,522.6 196.7,525.4 C199.5,528.2 202.0,531.5 206.7,533.7 C211.4,535.9 222.0,537.7 225.1,538.5" fill="none" stroke="#378BE0" stroke-width="3.5" stroke-linejoin="round" stroke-linecap="round"/>
<path d="M86.0,538.5 C87.5,537.7 92.2,537.3 94.9,533.7 C97.6,530.1 100.2,525.4 102.4,517.0 C104.6,508.6 106.4,497.5 108.2,483.6 C110.0,469.7 111.4,453.1 113.2,433.6 C115.0,414.1 117.4,387.4 119.1,366.8 C120.8,346.2 122.1,324.4 123.5,310.0 C124.9,295.6 126.2,288.0 127.4,280.3 C128.6,272.6 129.6,267.8 130.8,263.6 C132.1,259.4 133.7,257.7 134.9,255.3 C136.1,252.9 136.8,250.7 137.8,249.0 C138.8,247.3 139.9,245.1 140.8,245.3 C141.8,245.5 142.7,246.9 143.5,250.0 C144.3,253.1 144.7,255.8 145.8,263.6 C146.9,271.4 148.9,289.3 150.0,297.0 C151.1,304.7 150.8,298.4 152.5,310.0 C154.2,321.6 157.4,349.0 160.0,366.8 C162.6,384.6 165.5,403.0 168.3,416.9 C171.1,430.8 174.5,441.8 176.7,450.2 C178.9,458.6 179.5,458.6 181.7,467.0 C183.9,475.4 187.5,492.0 190.0,500.3 C192.5,508.6 194.4,512.7 196.7,517.0 C199.0,521.3 201.8,523.8 204.0,526.0 C206.2,528.2 208.2,529.8 210.0,530.5 C211.8,531.2 213.1,530.0 214.5,530.0 C215.9,530.0 216.8,529.7 218.4,530.3 C220.0,530.9 221.8,532.5 224.0,533.5 C226.2,534.5 228.2,535.2 231.8,536.0 C235.5,536.8 243.6,538.1 245.9,538.5" fill="none" stroke="#806468" stroke-width="3.5" stroke-linejoin="round" stroke-linecap="round"/>
<path d="M76.5,538.5 C80.7,538.0 94.8,537.6 101.5,535.4 C108.2,533.2 111.9,529.9 116.6,525.4 C121.3,520.9 126.0,515.7 129.9,508.7 C133.8,501.7 136.8,493.4 139.9,483.6 C143.0,473.9 145.5,461.3 148.3,450.2 C151.1,439.1 154.1,425.2 156.6,416.9 C159.1,408.6 160.5,405.8 163.3,400.2 C166.1,394.6 170.5,389.1 173.3,383.5 C176.1,377.9 178.1,372.4 180.0,366.8 C181.9,361.2 183.1,353.5 184.5,350.0 C185.9,346.5 187.0,345.9 188.3,345.9 C189.6,345.9 190.8,346.5 192.5,350.0 C194.2,353.5 196.0,358.4 198.4,366.8 C200.8,375.2 203.9,389.1 206.7,400.2 C209.5,411.3 212.3,423.9 215.1,433.6 C217.9,443.3 220.1,451.7 223.4,458.6 C226.7,465.6 232.3,471.6 235.1,475.3 C237.9,479.0 238.1,478.2 240.0,481.0 C241.9,483.8 244.3,488.2 246.8,492.0 C249.3,495.8 252.5,500.1 255.1,503.7 C257.7,507.3 258.8,509.7 262.2,513.6 C265.6,517.5 271.1,523.3 275.5,526.9 C279.9,530.5 285.3,533.4 288.9,535.3 C292.5,537.2 295.8,538.0 297.2,538.5" fill="none" stroke="#E2A3B3" stroke-width="3.5" stroke-linejoin="round" stroke-linecap="round"/>
<path d="M84.0,538.5 C85.0,538.4 87.0,538.7 89.9,537.9 C92.8,537.1 98.2,535.8 101.5,533.7 C104.8,531.6 106.8,529.6 109.9,525.4 C113.0,521.2 116.9,515.7 119.9,508.7 C123.0,501.7 125.5,493.4 128.2,483.6 C130.8,473.9 133.3,461.3 135.8,450.2 C138.3,439.1 140.8,428.0 143.3,416.9 C145.8,405.8 148.3,394.6 150.8,383.5 C153.3,372.4 156.6,357.4 158.3,350.1 C160.0,342.9 159.9,342.5 160.9,340.0 C161.9,337.5 162.9,335.6 164.1,335.1 C165.3,334.6 166.2,334.5 168.0,337.0 C169.8,339.5 172.7,345.1 175.0,350.1 C177.3,355.1 179.2,361.2 181.7,366.8 C184.2,372.4 186.9,375.1 190.0,383.5 C193.1,391.9 196.9,405.8 200.0,416.9 C203.1,428.0 204.8,439.1 208.4,450.2 C212.0,461.3 217.8,475.2 221.7,483.6 C225.6,492.0 228.8,496.4 231.8,500.3 C234.9,504.2 237.1,504.5 240.0,507.0 C242.9,509.5 246.0,512.7 249.0,515.5 C252.0,518.3 255.3,521.4 258.0,524.0 C260.7,526.6 261.2,528.9 265.0,531.0 C268.8,533.1 273.7,535.8 280.5,536.9 C287.3,538.0 297.2,537.5 305.6,537.8 C314.0,538.1 326.4,538.4 330.6,538.5" fill="none" stroke="#3F55BA" stroke-width="3.5" stroke-linejoin="round" stroke-linecap="round"/>
<rect x="53.8" y="73.5" width="539.9" height="482.9" fill="none" stroke="#000" stroke-width="2.2" stroke-linejoin="round"/>
<line x1="73.5" y1="556.4" x2="73.5" y2="575.8" stroke="#000" stroke-width="2.1"/>
<text x="73.5" y="624.5" font-size="31.4" text-anchor="middle">0.0</text>
<line x1="173.5" y1="556.4" x2="173.5" y2="575.8" stroke="#000" stroke-width="2.1"/>
<text x="173.5" y="624.5" font-size="31.4" text-anchor="middle">0.2</text>
<line x1="273.5" y1="556.4" x2="273.5" y2="575.8" stroke="#000" stroke-width="2.1"/>
<text x="273.5" y="624.5" font-size="31.4" text-anchor="middle">0.4</text>
<line x1="373.5" y1="556.4" x2="373.5" y2="575.8" stroke="#000" stroke-width="2.1"/>
<text x="373.5" y="624.5" font-size="31.4" text-anchor="middle">0.6</text>
<line x1="473.5" y1="556.4" x2="473.5" y2="575.8" stroke="#000" stroke-width="2.1"/>
<text x="473.5" y="624.5" font-size="31.4" text-anchor="middle">0.8</text>
<line x1="573.5" y1="556.4" x2="573.5" y2="575.8" stroke="#000" stroke-width="2.1"/>
<text x="573.5" y="624.5" font-size="31.4" text-anchor="middle">1.0</text>
<text x="323.5" y="28" font-size="37.4" font-weight="bold" text-anchor="middle">Invertebrate-only , state 2</text>
<text x="4.3" y="93.6" font-size="41.5" font-weight="bold">h</text>
<text transform="translate(27.5,314.8) rotate(-90)" font-size="31.6" text-anchor="middle">Density</text>
<line x1="287.7" y1="99.8" x2="327.8" y2="99.8" stroke="#272727" stroke-width="3.5" stroke-linecap="round"/>
<text x="346.5" y="107.7" font-size="22.2">Substrate</text>
<line x1="287.7" y1="126.3" x2="327.8" y2="126.3" stroke="#2EC6BE" stroke-width="3.5" stroke-linecap="round"/>
<text x="346.5" y="134.2" font-size="22.2">Acorn barnacles</text>
<line x1="287.7" y1="152.8" x2="327.8" y2="152.8" stroke="#378BE0" stroke-width="3.5" stroke-linecap="round"/>
<text x="346.5" y="160.7" font-size="22.2">Gooseneck barnacles</text>
<line x1="287.7" y1="179.3" x2="327.8" y2="179.3" stroke="#806468" stroke-width="3.5" stroke-linecap="round"/>
<text x="346.5" y="187.2" font-size="22.2">Crustose fleshy algae</text>
<line x1="287.7" y1="205.8" x2="327.8" y2="205.8" stroke="#E2A3B3" stroke-width="3.5" stroke-linecap="round"/>
<text x="346.5" y="213.7" font-size="22.2">Crustose coralline algae</text>
<line x1="287.7" y1="232.3" x2="327.8" y2="232.3" stroke="#3F55BA" stroke-width="3.5" stroke-linecap="round"/>
<text x="346.5" y="240.2" font-size="22.2">Mussels</text>
<text x="323.5" y="2702.8" font-size="31.6" text-anchor="middle" transform="translate(0,-2040)">Conditional probability</text>
</g>
</svg></body></html>
